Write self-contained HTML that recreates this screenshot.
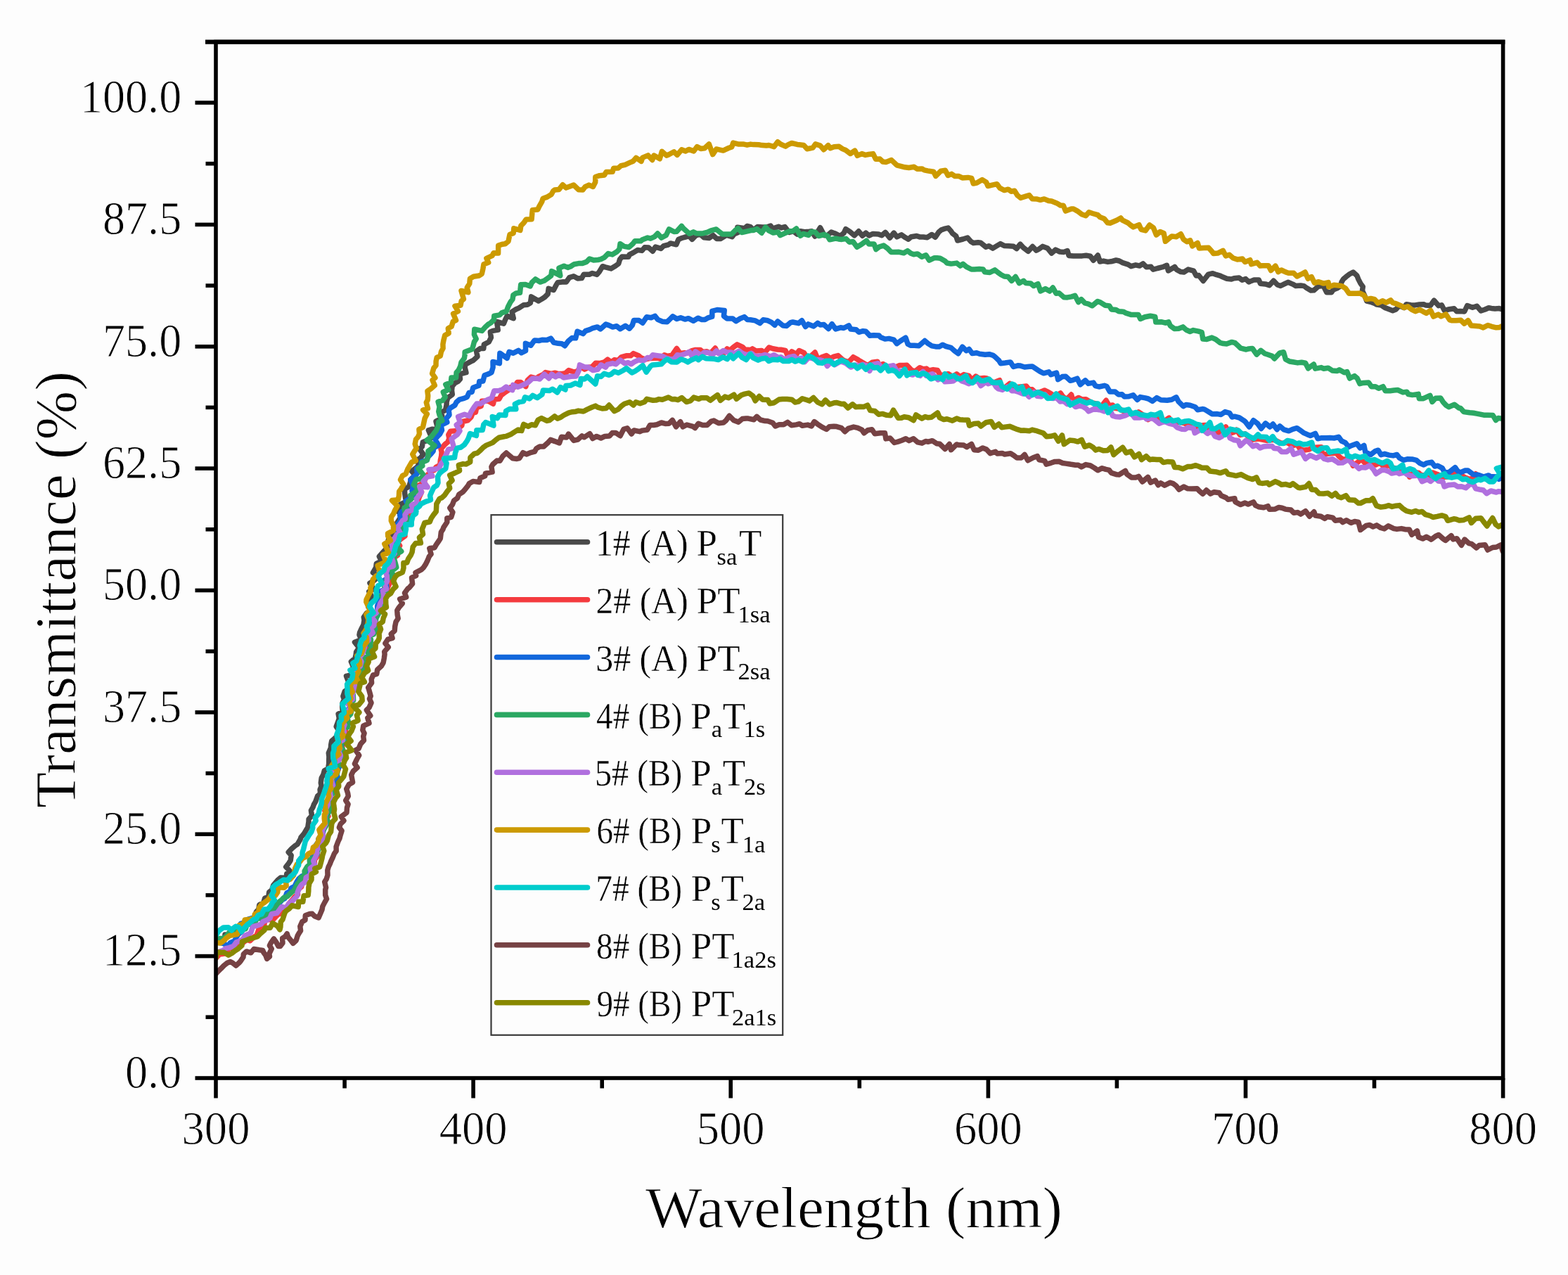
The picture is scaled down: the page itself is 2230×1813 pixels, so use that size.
<!DOCTYPE html>
<html><head><meta charset="utf-8"><title>Transmittance spectra</title>
<style>
html,body{margin:0;padding:0;background:#fdfdfd;}
svg{display:block;}
text{font-family:"Liberation Serif","DejaVu Serif",serif;fill:#000;stroke:#fdfdfd;stroke-width:0.9px;paint-order:fill;}
.tk{font-size:67px;}
.ti{font-size:82px;}
.lg{font-size:53px;stroke-width:0.4px;}
.sb{font-size:34.5px;stroke-width:0;}
</style></head><body>
<svg width="2230" height="1813" viewBox="0 0 2230 1813">
<rect width="2230" height="1813" fill="#fdfdfd"/>
<defs><clipPath id="pc"><rect x="307.0" y="40" width="1830.6" height="1493.0"/></clipPath></defs>
<g fill="none" clip-path="url(#pc)" stroke-width="7.5" stroke-linejoin="round" stroke-linecap="round">
<path d="M307.6 1339.1 L312.9 1334.9 L319.3 1336.7 L320.0 1328.9 L326.2 1330.1 L333.2 1325.2 L336.7 1322.7 L340.7 1317.4 L346.3 1315.3 L349.3 1311.2 L353.6 1310.6 L360.0 1305.7 L362.7 1303.6 L364.4 1296.6 L367.9 1292.6 L368.8 1286.7 L374.6 1284.0 L376.7 1277.0 L381.7 1275.6 L382.7 1268.7 L386.4 1265.6 L388.8 1258.6 L392.4 1254.5 L394.8 1251.7 L399.0 1248.1 L407.3 1248.3 L407.8 1242.3 L412.0 1238.1 L406.6 1232.7 L410.5 1227.7 L413.2 1223.4 L414.2 1216.3 L410.2 1211.8 L415.0 1206.6 L420.0 1202.4 L422.9 1200.6 L427.1 1193.5 L428.0 1190.6 L432.6 1185.2 L435.4 1180.3 L437.8 1176.4 L439.0 1168.4 L439.1 1164.7 L443.5 1159.9 L442.4 1152.4 L444.9 1148.2 L446.4 1143.9 L448.8 1139.8 L451.6 1132.0 L455.6 1128.7 L455.1 1122.8 L457.2 1117.7 L456.3 1113.2 L457.2 1106.3 L459.9 1101.3 L461.3 1095.9 L466.6 1093.1 L467.7 1085.9 L467.7 1082.3 L467.9 1075.8 L467.3 1070.7 L470.4 1063.6 L470.7 1058.9 L471.7 1053.6 L475.8 1050.2 L480.9 1044.6 L482.8 1040.1 L478.2 1033.1 L480.3 1027.6 L482.4 1021.4 L481.1 1015.1 L487.3 1012.4 L486.8 1005.6 L486.8 1000.4 L489.5 994.9 L487.9 990.0 L490.3 983.0 L495.4 979.4 L495.7 975.4 L495.2 968.3 L492.5 961.3 L504.3 958.6 L500.1 953.0 L502.7 948.5 L499.3 940.8 L504.9 936.1 L506.1 931.5 L506.6 927.1 L510.6 921.0 L504.5 913.2 L513.8 909.4 L511.0 902.7 L511.6 899.3 L514.6 892.9 L517.0 888.2 L518.0 881.8 L517.3 877.6 L521.5 871.7 L528.4 868.9 L523.8 862.9 L522.7 854.7 L527.7 852.5 L528.1 846.8 L524.8 841.2 L531.4 837.4 L526.0 829.2 L532.2 825.4 L537.6 819.5 L530.4 814.3 L534.7 806.8 L535.3 801.4 L542.7 797.9 L539.3 791.2 L542.9 787.1 L546.9 782.7 L551.3 778.7 L553.8 773.9 L552.2 768.4 L553.9 760.5 L563.5 759.4 L563.1 754.2 L566.3 749.7 L564.7 743.5 L567.8 738.4 L573.1 733.4 L566.6 727.9 L571.5 723.2 L569.4 717.2 L578.8 712.8 L576.7 708.8 L575.7 701.5 L575.5 695.7 L581.6 691.8 L583.5 686.0 L584.1 681.6 L590.4 675.6 L585.6 670.0 L592.6 664.6 L596.4 660.2 L592.3 654.9 L598.0 651.1 L602.1 646.0 L596.7 638.5 L600.3 635.1 L601.3 628.8 L607.8 626.2 L613.9 622.3 L609.4 611.8 L614.9 610.2 L623.1 610.7 L620.0 599.2 L626.0 596.1 L628.7 591.2 L627.9 586.3 L633.5 583.2 L635.1 575.4 L635.1 571.6 L636.8 565.8 L643.3 561.0 L642.5 555.2 L643.2 549.0 L646.9 544.7 L651.6 542.1 L654.5 539.0 L653.6 532.0 L662.9 529.7 L661.1 522.4 L661.9 518.2 L669.9 513.9 L673.0 512.5 L679.0 507.0 L677.5 499.3 L682.9 495.6 L687.8 495.4 L688.3 489.9 L695.2 486.2 L698.4 480.0 L697.3 472.0 L701.0 470.4 L708.2 469.1 L706.5 457.5 L716.4 460.1 L718.8 454.1 L721.3 449.2 L730.3 452.7 L728.1 443.4 L733.9 439.8 L737.8 438.1 L744.4 433.8 L750.1 433.3 L754.4 430.8 L755.6 421.9 L765.8 427.9 L769.9 425.6 L774.7 422.5 L779.2 418.0 L780.2 410.3 L787.3 412.5 L790.9 405.5 L793.2 401.8 L801.3 400.7 L805.4 400.9 L809.8 394.6 L815.8 392.8 L821.5 395.9 L827.3 395.6 L830.2 390.3 L838.2 390.2 L842.3 388.5 L849.0 390.4 L852.4 386.4 L857.0 378.7 L860.9 379.9 L868.9 381.9 L875.2 378.2 L879.7 375.0 L881.5 368.9 L884.7 364.9 L893.8 365.3 L895.1 362.2 L900.5 359.4 L906.9 355.5 L913.0 356.4 L916.8 351.8 L922.4 351.9 L928.3 357.3 L932.2 351.1 L939.9 353.4 L944.0 349.6 L950.6 348.0 L953.6 345.9 L961.8 347.8 L964.9 340.5 L969.2 338.6 L973.1 337.5 L980.3 335.7 L984.3 340.3 L989.6 334.8 L995.7 332.9 L1001.1 337.7 L1008.4 338.5 L1014.2 334.7 L1019.4 339.5 L1025.0 339.4 L1031.0 335.5 L1032.6 334.1 L1041.2 336.6 L1044.2 332.7 L1049.7 330.5 L1048.9 323.2 L1058.8 324.8 L1062.5 321.5 L1067.5 322.7 L1071.5 327.1 L1077.4 322.4 L1084.3 322.9 L1090.3 323.1 L1096.1 321.1 L1098.5 325.1 L1107.3 322.3 L1111.4 323.9 L1116.2 322.5 L1122.4 330.5 L1128.3 328.8 L1133.8 333.1 L1138.3 328.7 L1144.2 329.7 L1150.9 329.2 L1154.6 328.7 L1159.0 336.0 L1166.5 323.7 L1172.3 334.8 L1177.0 334.5 L1182.2 330.1 L1186.9 331.7 L1194.8 335.6 L1200.1 331.3 L1202.8 325.7 L1208.6 329.4 L1215.1 334.8 L1221.2 328.8 L1226.4 335.2 L1231.4 331.2 L1235.9 335.0 L1241.5 332.4 L1249.6 333.1 L1254.1 334.7 L1259.2 330.4 L1265.4 338.3 L1271.2 331.1 L1275.5 336.8 L1282.0 333.9 L1287.7 337.8 L1291.9 340.2 L1296.0 336.7 L1303.7 335.5 L1307.9 336.9 L1313.2 337.0 L1318.8 337.7 L1325.2 333.5 L1330.1 337.3 L1335.2 329.8 L1338.5 327.1 L1342.7 325.4 L1348.4 324.1 L1352.6 328.8 L1354.5 331.8 L1359.7 335.8 L1361.8 342.0 L1369.6 340.0 L1376.0 338.0 L1380.9 343.5 L1384.3 345.5 L1391.0 344.7 L1394.7 345.2 L1402.2 351.2 L1406.4 349.7 L1411.9 353.1 L1417.2 349.9 L1422.7 346.6 L1428.1 349.4 L1434.4 349.7 L1441.3 350.2 L1445.8 353.6 L1451.0 347.2 L1455.3 352.0 L1462.2 357.4 L1468.5 350.5 L1473.8 356.1 L1477.1 354.5 L1483.0 350.4 L1489.9 353.1 L1495.6 360.0 L1501.2 355.1 L1507.2 358.0 L1512.7 358.5 L1518.1 356.6 L1520.1 363.4 L1526.5 364.1 L1533.1 364.1 L1539.0 363.9 L1544.6 363.2 L1550.6 364.2 L1555.0 370.3 L1561.4 363.1 L1564.3 372.0 L1569.3 371.1 L1575.5 372.4 L1580.4 371.8 L1587.2 370.0 L1591.8 371.0 L1596.7 373.6 L1604.5 376.1 L1608.5 378.7 L1615.1 376.8 L1620.7 378.0 L1625.6 374.8 L1630.5 379.8 L1636.9 379.3 L1640.0 383.2 L1646.3 381.5 L1653.7 379.7 L1659.4 377.3 L1661.5 384.9 L1670.7 379.5 L1673.4 383.4 L1679.4 386.6 L1683.7 387.0 L1689.8 383.1 L1697.6 385.2 L1701.2 392.0 L1704.8 391.5 L1711.2 399.5 L1718.5 390.1 L1724.8 388.7 L1730.2 390.7 L1735.4 392.1 L1738.8 393.8 L1744.8 396.3 L1751.3 397.0 L1754.9 395.7 L1762.2 395.1 L1766.5 398.3 L1771.6 396.6 L1775.9 400.9 L1783.5 398.1 L1790.3 398.1 L1792.5 403.2 L1799.7 403.9 L1805.3 405.6 L1811.2 399.2 L1816.8 405.0 L1821.2 406.5 L1826.4 403.9 L1831.8 401.3 L1838.5 404.1 L1842.8 406.6 L1849.9 406.0 L1854.5 406.6 L1858.4 409.6 L1864.3 413.1 L1868.5 412.8 L1875.0 407.2 L1882.0 406.2 L1886.8 415.8 L1893.7 415.7 L1896.3 411.9 L1901.8 409.7 L1906.3 406.9 L1908.0 401.0 L1910.5 396.9 L1914.7 393.3 L1919.4 389.8 L1924.5 387.0 L1929.9 392.0 L1931.8 396.9 L1935.0 403.1 L1938.3 407.6 L1937.5 413.3 L1939.8 418.3 L1941.6 422.5 L1943.8 428.1 L1949.0 429.3 L1955.1 431.5 L1958.1 433.1 L1964.5 434.1 L1970.2 437.8 L1974.9 439.6 L1980.7 441.8 L1985.2 440.0 L1990.2 434.5 L1996.8 437.6 L2000.1 432.7 L2006.5 433.7 L2012.5 433.9 L2018.6 433.0 L2025.1 432.7 L2027.5 434.0 L2034.4 434.4 L2039.5 427.2 L2046.0 434.7 L2050.3 433.8 L2054.3 441.5 L2061.4 439.7 L2068.0 438.8 L2071.7 442.8 L2076.8 442.4 L2082.7 443.0 L2086.7 434.5 L2094.3 437.3 L2100.4 435.3 L2106.2 441.9 L2111.5 440.2 L2117.2 437.7 L2121.1 438.4 L2126.3 438.9 L2132.3 438.6 L2137.6 440.3" stroke="#4a4a4a"/>
<path d="M307.2 1362.4 L312.3 1357.0 L315.9 1356.6 L323.4 1355.2 L323.8 1347.2 L330.0 1348.6 L336.1 1343.6 L341.2 1341.8 L345.0 1341.0 L350.9 1336.1 L355.5 1337.8 L360.8 1332.5 L365.1 1329.5 L367.0 1324.7 L368.2 1320.4 L375.7 1315.8 L376.5 1310.3 L380.7 1307.5 L387.9 1308.2 L392.3 1303.4 L395.6 1300.2 L401.6 1298.2 L404.0 1292.9 L408.3 1291.0 L410.9 1285.0 L415.8 1279.5 L419.2 1275.2 L423.6 1271.9 L422.8 1266.0 L428.7 1261.0 L429.6 1255.7 L428.9 1251.3 L431.9 1245.4 L437.0 1240.5 L441.8 1237.5 L442.6 1233.2 L447.4 1229.0 L447.3 1222.7 L451.7 1217.1 L451.6 1211.9 L451.1 1207.0 L455.2 1202.3 L454.0 1197.5 L454.6 1190.7 L456.7 1186.4 L458.4 1181.7 L460.6 1176.5 L462.8 1170.9 L463.9 1163.9 L467.0 1160.7 L461.9 1152.7 L465.9 1147.8 L471.6 1142.1 L467.7 1137.4 L467.5 1130.7 L468.1 1127.7 L469.0 1120.2 L471.6 1114.0 L477.9 1112.8 L471.4 1102.9 L473.9 1100.3 L481.0 1094.5 L478.7 1090.6 L480.1 1085.1 L479.5 1079.1 L484.7 1072.0 L480.6 1065.9 L487.0 1062.1 L486.0 1056.3 L486.1 1051.8 L486.5 1045.5 L491.6 1041.2 L491.5 1033.9 L490.5 1029.7 L493.3 1023.7 L491.1 1018.9 L498.9 1013.2 L500.4 1008.1 L501.2 1002.2 L499.7 998.7 L502.1 991.5 L498.2 986.2 L502.3 981.4 L504.0 976.1 L505.4 972.3 L509.5 965.0 L507.9 959.8 L508.2 955.9 L515.3 950.0 L512.3 945.6 L513.2 939.2 L511.5 931.9 L514.5 927.8 L518.7 924.6 L522.1 918.0 L518.2 911.9 L524.4 908.1 L526.8 903.8 L526.4 897.8 L530.5 890.5 L535.3 887.8 L531.8 880.7 L531.6 874.1 L536.4 871.4 L536.9 866.5 L541.5 860.8 L545.0 856.9 L547.3 851.9 L547.3 847.1 L552.1 841.7 L550.6 836.7 L554.5 829.1 L553.7 825.0 L555.1 818.5 L554.3 813.1 L556.9 808.6 L556.7 803.2 L558.6 799.0 L561.6 792.0 L565.5 789.5 L563.8 782.6 L568.7 776.0 L565.3 770.9 L569.7 766.7 L576.0 762.2 L575.3 757.4 L572.1 749.8 L578.7 746.8 L581.0 740.4 L580.1 736.2 L581.4 729.7 L586.3 723.7 L587.5 719.6 L593.6 716.5 L594.7 711.7 L596.1 707.3 L599.6 699.6 L593.1 691.3 L600.2 687.9 L603.6 685.4 L604.8 679.0 L607.9 675.6 L612.7 670.1 L617.8 668.4 L620.0 664.3 L625.8 661.2 L626.3 654.8 L627.7 648.3 L628.1 642.5 L627.0 638.5 L632.7 632.0 L636.7 628.7 L638.9 623.5 L637.8 618.2 L640.7 613.2 L650.3 612.4 L654.0 607.3 L656.8 605.0 L657.8 599.5 L665.2 597.9 L670.2 592.8 L672.3 587.1 L676.4 586.3 L677.7 579.8 L684.3 577.4 L685.4 570.2 L694.1 570.0 L701.4 574.3 L703.1 567.9 L709.9 567.3 L712.6 562.2 L718.3 557.8 L723.6 554.3 L726.3 550.5 L731.5 550.7 L735.8 543.5 L740.4 543.4 L747.8 549.6 L750.3 540.7 L755.3 536.1 L763.2 538.1 L766.0 535.6 L772.8 532.3 L775.8 529.6 L784.0 531.4 L789.1 530.2 L792.6 531.2 L798.0 531.6 L804.2 530.6 L808.8 526.5 L816.5 529.0 L821.2 527.7 L825.8 521.5 L831.4 525.1 L838.5 521.9 L841.4 522.3 L847.2 516.2 L852.7 516.6 L859.5 515.0 L864.2 511.1 L869.0 514.8 L873.9 511.6 L879.3 512.4 L883.5 507.9 L890.6 505.8 L896.9 505.8 L900.8 502.6 L908.1 505.8 L911.6 508.6 L917.5 511.0 L925.1 509.4 L930.5 509.3 L934.7 508.9 L940.5 510.6 L944.8 504.8 L949.4 506.4 L955.9 505.0 L962.5 495.5 L967.2 502.5 L973.6 501.6 L977.1 502.1 L984.1 498.7 L989.1 497.5 L995.9 497.4 L999.4 500.5 L1005.3 499.7 L1010.2 502.5 L1017.2 495.0 L1020.5 501.5 L1028.2 503.7 L1034.0 495.9 L1037.6 498.5 L1043.2 493.6 L1048.4 489.9 L1056.0 493.3 L1059.3 497.0 L1067.3 497.6 L1070.1 495.9 L1075.3 498.9 L1083.4 498.4 L1086.2 502.8 L1093.8 494.0 L1099.1 495.8 L1105.8 497.0 L1110.6 497.3 L1117.1 498.5 L1120.6 506.9 L1125.9 499.9 L1132.9 503.8 L1136.4 498.5 L1143.5 501.6 L1146.4 506.4 L1152.1 507.6 L1159.1 501.1 L1163.7 512.1 L1168.3 508.0 L1175.3 505.5 L1180.8 509.6 L1185.8 507.1 L1191.9 505.6 L1198.0 511.0 L1201.3 513.2 L1207.1 514.6 L1213.5 507.7 L1218.6 510.5 L1223.0 513.3 L1230.9 518.0 L1234.8 519.3 L1240.4 515.3 L1248.0 514.2 L1249.8 519.6 L1256.0 517.6 L1260.8 520.9 L1266.0 523.4 L1271.6 523.0 L1279.6 519.4 L1285.5 519.5 L1289.8 519.3 L1296.4 526.4 L1301.2 528.1 L1308.1 522.7 L1312.7 524.7 L1317.5 524.1 L1321.2 526.9 L1327.1 525.6 L1333.3 526.5 L1337.2 533.1 L1344.4 533.3 L1348.4 531.5 L1354.8 535.7 L1360.5 531.8 L1365.4 535.7 L1370.6 532.6 L1378.0 534.5 L1382.6 540.4 L1387.7 535.0 L1392.9 538.3 L1399.7 537.4 L1403.4 537.9 L1409.7 542.7 L1414.1 543.8 L1421.6 540.7 L1424.7 551.9 L1429.4 551.0 L1436.1 545.4 L1441.1 550.2 L1446.3 550.5 L1453.6 549.7 L1459.5 549.0 L1463.2 553.4 L1467.9 553.8 L1473.4 558.9 L1480.2 557.2 L1485.5 555.0 L1489.0 556.6 L1494.3 559.5 L1500.1 563.6 L1508.2 559.0 L1511.5 563.7 L1517.0 567.8 L1523.6 561.1 L1526.0 569.7 L1533.7 565.5 L1538.7 567.9 L1544.4 567.7 L1550.8 571.6 L1554.1 572.8 L1561.5 574.7 L1563.3 581.8 L1573.1 569.3 L1577.3 576.7 L1582.5 576.1 L1585.3 580.4 L1592.5 581.4 L1595.8 583.8 L1603.7 586.5 L1607.4 585.8 L1613.8 591.6 L1619.3 585.8 L1625.0 589.7 L1629.2 592.1 L1632.9 596.6 L1642.3 590.6 L1646.5 591.7 L1650.4 597.5 L1657.6 597.6 L1662.6 594.2 L1666.1 602.3 L1671.3 600.8 L1677.4 600.4 L1684.4 601.7 L1687.4 603.6 L1694.1 603.6 L1699.7 606.7 L1704.4 607.6 L1710.4 604.8 L1714.9 604.4 L1721.1 614.6 L1725.3 609.4 L1730.6 616.8 L1735.7 613.4 L1743.4 607.0 L1748.7 616.4 L1755.2 614.4 L1758.5 611.2 L1763.5 618.5 L1770.7 616.8 L1774.6 620.2 L1781.3 625.3 L1784.1 624.9 L1789.9 624.0 L1797.2 625.5 L1802.5 626.5 L1809.1 625.6 L1811.9 625.2 L1816.8 627.7 L1822.3 630.4 L1830.7 629.4 L1834.3 631.7 L1839.5 633.5 L1844.9 632.0 L1848.9 638.4 L1853.8 640.2 L1861.9 639.1 L1865.7 636.8 L1874.0 636.1 L1879.0 635.8 L1880.7 646.7 L1886.8 645.6 L1892.1 644.7 L1900.6 644.2 L1904.3 648.9 L1909.4 653.2 L1914.5 652.6 L1919.1 649.7 L1924.3 662.3 L1931.7 656.8 L1936.0 652.6 L1941.0 658.2 L1948.3 659.7 L1952.3 661.4 L1956.3 661.1 L1962.7 657.9 L1967.5 663.4 L1975.8 661.7 L1980.2 665.3 L1983.2 665.5 L1989.8 669.1 L1994.3 668.9 L2000.1 668.7 L2004.6 678.2 L2010.7 671.1 L2017.7 672.4 L2020.6 675.2 L2026.0 676.2 L2032.2 678.3 L2037.6 672.1 L2045.4 675.1 L2050.3 679.9 L2055.3 677.9 L2061.3 678.2 L2064.6 673.6 L2070.9 673.8 L2077.3 675.7 L2083.6 678.9 L2088.3 680.7 L2092.9 681.2 L2098.6 673.8 L2105.8 679.3 L2110.2 680.0 L2116.8 679.1 L2119.8 679.4 L2127.8 678.1 L2130.7 680.3 L2137.6 680.0" stroke="#f43b3f"/>
<path d="M307.0 1338.4 L310.8 1340.2 L317.6 1341.5 L324.2 1345.2 L327.4 1340.8 L333.8 1338.0 L335.8 1333.1 L339.7 1327.8 L343.8 1325.0 L347.2 1319.0 L342.3 1313.5 L350.0 1311.5 L353.1 1307.0 L359.1 1305.3 L363.7 1306.6 L370.6 1304.2 L376.4 1306.7 L380.2 1302.4 L383.0 1301.7 L387.3 1296.3 L391.4 1292.0 L392.9 1285.5 L396.8 1284.7 L401.4 1279.4 L404.9 1277.6 L407.9 1269.9 L412.6 1267.4 L413.8 1263.1 L418.9 1260.4 L422.1 1253.9 L425.1 1249.4 L429.6 1245.8 L437.2 1243.3 L440.6 1238.6 L440.4 1234.5 L442.5 1230.2 L445.0 1224.5 L444.2 1216.6 L450.9 1214.8 L447.6 1208.5 L449.3 1201.6 L452.9 1196.7 L453.0 1192.7 L456.9 1188.7 L459.6 1183.5 L460.2 1177.5 L463.1 1172.3 L463.8 1166.0 L463.9 1159.2 L465.6 1155.9 L472.4 1150.9 L469.9 1144.6 L465.9 1139.6 L468.9 1133.7 L470.7 1127.0 L476.0 1122.2 L474.8 1118.3 L479.5 1112.2 L481.3 1108.5 L478.9 1101.0 L479.3 1097.0 L482.4 1090.6 L478.5 1086.6 L479.9 1080.9 L477.4 1073.4 L484.9 1070.5 L481.4 1064.0 L485.8 1058.0 L492.4 1054.9 L483.1 1047.5 L486.8 1040.9 L486.0 1037.5 L486.7 1032.3 L493.4 1025.3 L488.1 1018.4 L494.3 1014.8 L494.8 1009.5 L498.9 1003.8 L492.0 997.9 L494.4 994.1 L502.0 989.4 L495.6 981.9 L502.7 976.6 L506.5 972.8 L500.2 967.3 L503.4 960.4 L510.3 956.0 L505.3 951.4 L513.3 945.1 L515.0 942.8 L514.1 934.6 L515.0 930.3 L516.9 924.7 L516.5 919.9 L522.1 915.9 L523.6 910.2 L523.9 902.8 L526.4 897.7 L523.6 891.1 L526.0 887.6 L524.7 881.3 L530.8 877.2 L536.2 874.3 L536.7 867.9 L536.7 861.4 L538.5 857.2 L540.1 852.3 L545.7 848.7 L541.8 840.4 L549.9 836.9 L549.6 831.8 L545.6 825.8 L553.4 820.9 L555.8 814.2 L553.9 809.2 L561.2 805.8 L555.5 798.7 L557.8 794.0 L560.8 788.2 L562.4 784.2 L561.7 776.2 L565.3 772.6 L562.0 765.8 L565.7 762.9 L565.1 756.1 L566.7 751.6 L565.6 745.3 L570.3 739.5 L568.7 732.8 L570.9 727.9 L575.9 725.1 L580.8 719.0 L577.3 712.5 L582.7 708.9 L588.8 705.7 L586.0 697.9 L587.2 694.2 L586.8 688.4 L583.8 682.1 L590.6 676.3 L593.3 673.5 L592.7 666.5 L598.7 662.7 L599.5 656.6 L607.2 654.3 L607.9 650.6 L612.9 645.4 L616.2 641.3 L616.9 636.5 L623.8 633.3 L619.1 625.0 L621.7 621.0 L625.7 617.0 L628.5 611.8 L627.2 604.5 L635.9 600.4 L634.1 595.8 L639.0 590.0 L638.3 583.4 L640.3 580.3 L646.9 576.2 L649.1 571.9 L653.4 568.2 L660.0 566.4 L664.3 564.5 L667.1 558.4 L671.2 557.3 L672.8 551.3 L681.0 548.2 L681.7 542.6 L686.9 542.1 L689.0 533.8 L695.1 531.6 L699.0 529.6 L701.1 522.5 L701.0 514.4 L710.4 516.7 L710.6 508.0 L710.9 502.2 L721.2 509.3 L724.1 500.4 L729.9 502.2 L737.4 498.4 L741.6 501.8 L747.6 498.6 L747.4 488.3 L754.9 491.2 L760.2 483.9 L766.2 484.5 L770.8 483.3 L777.8 483.5 L783.4 481.1 L787.5 487.0 L793.8 488.3 L798.9 488.7 L803.3 491.7 L808.4 484.8 L813.4 480.5 L818.7 480.8 L821.1 471.2 L829.3 474.6 L832.6 470.6 L838.7 468.6 L842.9 466.7 L849.6 464.9 L853.9 468.0 L861.6 461.1 L866.1 462.6 L871.4 465.1 L877.0 463.7 L882.0 467.7 L889.5 463.2 L895.1 467.2 L899.4 462.2 L901.4 455.6 L908.6 455.5 L914.0 459.2 L919.6 450.8 L926.0 451.8 L931.5 449.4 L935.5 454.3 L941.8 457.2 L948.7 457.7 L953.0 453.6 L956.9 449.8 L962.6 453.5 L968.0 451.7 L974.2 454.1 L979.0 452.7 L986.2 456.3 L992.8 452.2 L998.2 454.6 L1002.6 454.4 L1006.4 452.2 L1012.8 450.2 L1012.8 442.4 L1019.9 440.5 L1030.2 441.6 L1029.4 449.5 L1034.0 453.0 L1042.0 453.0 L1046.6 456.7 L1052.7 453.0 L1058.5 450.6 L1062.9 454.6 L1067.2 454.8 L1074.2 455.9 L1080.7 459.6 L1085.4 454.8 L1091.9 455.8 L1097.2 458.4 L1101.9 462.3 L1106.0 457.0 L1113.7 463.1 L1118.8 463.4 L1124.4 458.7 L1127.5 458.0 L1135.6 459.7 L1140.5 455.8 L1145.6 464.6 L1149.5 460.9 L1157.2 463.9 L1162.9 459.4 L1166.6 462.0 L1171.7 461.6 L1178.3 467.5 L1183.2 460.6 L1188.4 467.9 L1195.4 465.8 L1200.0 466.5 L1207.2 462.9 L1209.8 468.0 L1217.6 468.7 L1221.5 472.3 L1227.4 470.7 L1231.5 471.3 L1237.2 477.3 L1242.5 476.8 L1249.9 476.9 L1252.3 479.5 L1258.7 482.1 L1264.2 481.4 L1271.1 483.2 L1275.4 488.6 L1280.4 485.0 L1288.0 480.2 L1291.1 489.2 L1294.9 491.2 L1300.4 491.2 L1306.9 491.8 L1315.2 484.5 L1319.7 488.4 L1325.2 491.9 L1330.8 492.9 L1335.7 493.1 L1340.5 490.2 L1345.3 492.5 L1352.3 494.3 L1357.3 498.7 L1362.8 502.8 L1368.7 493.1 L1374.2 498.7 L1378.2 496.4 L1382.7 502.6 L1389.0 501.8 L1393.3 503.3 L1401.1 504.3 L1406.9 503.7 L1412.5 505.3 L1415.1 507.4 L1420.8 512.8 L1423.1 516.7 L1429.4 516.0 L1437.0 514.9 L1441.3 521.5 L1447.4 519.8 L1451.2 520.1 L1457.2 522.0 L1463.8 521.2 L1468.0 520.9 L1474.4 525.2 L1478.9 528.1 L1484.0 530.8 L1491.8 528.9 L1494.6 532.7 L1502.6 530.2 L1504.7 539.6 L1510.8 535.6 L1515.6 535.2 L1522.1 541.3 L1526.2 540.3 L1532.0 538.2 L1536.4 546.9 L1543.5 540.9 L1547.8 545.4 L1555.1 544.1 L1557.8 548.6 L1563.0 550.0 L1570.7 548.3 L1574.1 549.5 L1578.3 556.9 L1585.8 557.1 L1590.8 560.9 L1595.7 560.8 L1599.1 563.9 L1605.4 563.8 L1611.6 561.8 L1617.5 568.5 L1621.7 564.6 L1628.7 565.9 L1633.1 567.0 L1639.1 570.4 L1645.1 565.6 L1651.0 568.7 L1655.8 569.0 L1659.9 569.3 L1666.4 568.2 L1672.8 564.8 L1676.2 571.2 L1682.8 577.7 L1686.6 575.6 L1692.5 576.2 L1699.8 578.7 L1703.3 582.8 L1709.9 581.6 L1712.7 581.9 L1719.6 586.0 L1723.7 588.7 L1731.3 588.6 L1736.5 589.5 L1742.3 585.6 L1748.6 587.3 L1752.2 593.0 L1755.8 592.2 L1762.7 594.0 L1768.7 597.8 L1771.1 599.7 L1776.6 607.1 L1782.6 597.8 L1788.5 602.3 L1793.7 609.5 L1799.8 601.9 L1806.1 607.0 L1810.4 603.1 L1816.2 610.7 L1820.1 605.9 L1825.9 610.8 L1832.9 612.8 L1838.4 610.3 L1844.5 608.7 L1848.4 611.3 L1853.8 615.3 L1859.1 617.7 L1863.6 619.5 L1870.6 616.4 L1874.2 623.8 L1879.6 622.7 L1885.7 622.8 L1891.5 622.6 L1897.3 623.0 L1903.8 621.3 L1907.9 627.0 L1913.6 629.7 L1918.1 635.5 L1920.9 633.9 L1929.7 630.7 L1934.3 637.0 L1939.9 633.5 L1941.8 643.0 L1949.4 646.5 L1955.6 641.6 L1960.1 640.2 L1964.1 646.7 L1969.3 645.3 L1975.4 647.1 L1981.3 647.9 L1986.7 646.5 L1990.5 651.3 L1995.9 654.3 L2001.4 652.8 L2008.2 652.9 L2014.3 654.3 L2019.6 658.8 L2024.8 660.9 L2029.4 658.4 L2036.1 657.3 L2040.5 663.1 L2044.8 662.2 L2051.2 665.6 L2054.5 671.7 L2060.6 671.8 L2069.5 664.7 L2072.0 668.4 L2076.1 672.2 L2083.8 669.0 L2087.7 669.0 L2095.3 674.7 L2100.3 675.0 L2103.7 675.7 L2109.9 678.0 L2117.1 675.9 L2119.5 677.4 L2127.4 678.0 L2131.7 681.4 L2137.5 677.3" stroke="#1267dc"/>
<path d="M307.0 1335.7 L311.7 1334.6 L317.1 1334.3 L321.8 1331.4 L327.2 1324.4 L334.1 1326.4 L336.3 1324.0 L342.3 1322.4 L349.1 1320.9 L351.7 1313.8 L357.2 1314.2 L362.7 1312.2 L365.6 1305.1 L372.1 1306.6 L377.2 1301.3 L379.5 1298.8 L382.2 1294.3 L388.2 1292.3 L392.3 1289.6 L397.1 1282.3 L400.8 1279.6 L403.5 1276.6 L408.5 1274.7 L414.4 1269.0 L417.8 1266.7 L420.3 1262.3 L423.1 1256.7 L426.3 1253.2 L427.8 1248.0 L433.3 1245.1 L433.1 1238.7 L437.0 1232.2 L440.6 1229.0 L440.3 1222.8 L446.8 1219.4 L451.0 1214.7 L451.8 1210.3 L454.0 1205.6 L456.4 1198.7 L457.0 1194.4 L458.9 1187.3 L458.2 1182.6 L462.4 1176.4 L464.0 1173.8 L466.9 1169.0 L464.3 1162.6 L467.3 1154.9 L468.4 1150.5 L468.0 1145.1 L468.8 1140.5 L469.4 1135.6 L470.8 1130.7 L477.6 1123.9 L469.3 1117.7 L472.2 1110.9 L472.0 1108.5 L478.5 1101.4 L479.9 1098.4 L477.3 1089.4 L483.2 1087.9 L479.0 1081.1 L487.4 1076.5 L484.6 1070.0 L487.9 1066.3 L482.9 1057.8 L490.5 1053.1 L489.0 1049.9 L488.2 1043.8 L486.9 1035.9 L494.2 1034.2 L495.5 1026.8 L493.8 1020.6 L498.7 1015.5 L499.7 1011.3 L501.2 1006.6 L496.4 1000.7 L502.6 996.0 L502.4 990.7 L501.8 983.6 L505.2 980.5 L505.5 972.3 L511.9 967.7 L509.3 964.1 L513.0 957.7 L516.4 952.2 L520.1 950.1 L519.6 941.6 L516.1 935.2 L525.3 932.5 L523.1 927.7 L527.9 921.9 L527.0 915.5 L527.5 909.5 L525.9 904.4 L531.4 901.9 L535.1 895.4 L532.7 889.8 L534.4 882.9 L534.9 879.2 L538.0 873.4 L540.1 868.5 L543.1 865.0 L541.8 856.9 L544.4 852.9 L542.6 846.4 L549.5 843.0 L548.1 838.2 L546.1 831.4 L549.5 825.4 L553.3 821.2 L558.8 817.3 L557.4 811.7 L563.8 806.8 L562.3 800.9 L560.3 794.3 L562.2 788.8 L570.8 784.0 L564.9 777.8 L565.9 772.8 L566.8 767.1 L566.5 762.8 L573.8 757.1 L575.0 753.4 L570.8 745.5 L579.5 743.2 L579.0 735.6 L576.2 730.8 L574.9 722.8 L579.2 718.6 L580.9 712.9 L585.5 709.2 L583.8 704.2 L589.1 700.9 L596.0 695.1 L588.3 689.3 L591.9 681.6 L598.0 681.1 L602.3 675.5 L594.9 666.2 L600.9 662.4 L599.6 657.8 L607.4 654.3 L609.1 648.3 L608.9 641.6 L613.4 638.2 L618.0 633.6 L607.2 625.7 L613.2 621.4 L617.2 616.2 L620.4 612.3 L623.2 605.8 L623.7 600.1 L628.8 598.2 L625.2 590.5 L623.8 585.3 L625.1 578.5 L623.1 571.3 L629.5 569.4 L633.2 564.6 L630.3 557.5 L637.8 554.1 L633.8 546.7 L641.3 543.9 L642.0 536.9 L648.6 536.9 L649.1 529.7 L652.0 526.5 L654.7 520.8 L656.0 515.0 L660.3 509.5 L661.1 504.6 L661.1 500.4 L671.5 496.4 L673.0 491.7 L674.4 486.1 L677.2 481.9 L674.4 475.8 L674.8 468.3 L685.4 470.4 L690.2 465.0 L694.5 461.1 L697.8 459.3 L702.4 454.8 L702.8 449.2 L710.6 447.9 L713.6 444.9 L720.2 442.6 L722.9 435.4 L726.0 429.5 L729.0 425.5 L729.9 419.6 L734.0 416.9 L739.5 416.3 L740.7 404.7 L747.3 404.5 L754.1 407.0 L756.4 401.7 L761.5 396.9 L768.2 401.1 L773.7 399.3 L779.2 395.5 L783.8 392.1 L784.7 385.6 L796.8 391.9 L794.9 381.3 L802.1 378.2 L807.5 380.4 L811.4 379.0 L816.6 375.7 L822.8 374.6 L827.8 374.6 L834.1 372.4 L838.5 368.0 L844.1 369.9 L850.5 369.5 L854.4 368.7 L859.5 366.2 L865.1 360.5 L870.7 362.0 L876.9 358.3 L880.9 354.3 L882.0 346.7 L887.6 350.4 L894.5 351.5 L900.3 346.4 L902.8 342.8 L911.2 342.8 L913.2 341.1 L921.0 338.0 L925.2 339.2 L930.8 336.6 L935.2 332.0 L940.8 338.1 L947.4 334.4 L951.5 325.9 L958.6 329.5 L962.3 329.3 L969.3 321.4 L972.3 325.2 L980.5 332.3 L986.1 329.8 L989.8 331.7 L996.9 332.0 L1000.3 331.7 L1006.4 330.2 L1011.2 327.8 L1018.7 326.0 L1021.8 328.6 L1027.4 333.0 L1032.8 333.0 L1040.5 332.9 L1045.7 327.5 L1049.6 324.6 L1055.0 330.6 L1062.6 328.9 L1068.1 327.6 L1070.7 327.6 L1076.5 325.5 L1083.2 331.2 L1088.8 323.0 L1092.9 327.6 L1099.8 331.1 L1106.4 329.9 L1109.6 334.7 L1116.3 331.7 L1122.6 328.8 L1127.4 328.7 L1132.6 325.0 L1138.2 335.3 L1142.4 332.4 L1149.9 334.4 L1154.0 329.4 L1159.5 330.3 L1164.3 335.5 L1172.2 333.5 L1176.9 335.6 L1180.0 340.8 L1188.3 339.1 L1192.5 339.9 L1197.1 340.4 L1203.3 339.5 L1207.9 344.2 L1213.1 343.6 L1218.8 351.3 L1225.1 347.6 L1232.3 342.2 L1235.6 346.9 L1243.1 347.0 L1245.8 354.6 L1250.4 351.0 L1256.7 349.1 L1262.2 353.1 L1267.3 358.4 L1271.5 358.6 L1278.5 358.3 L1285.4 359.8 L1290.7 356.6 L1295.4 360.3 L1299.4 361.8 L1304.8 360.9 L1310.9 365.3 L1316.9 362.8 L1321.6 370.1 L1329.0 366.7 L1332.8 366.8 L1337.1 367.2 L1344.1 371.2 L1346.7 374.0 L1352.6 375.1 L1360.7 374.1 L1365.8 378.1 L1369.6 375.3 L1374.4 379.4 L1381.5 383.0 L1385.9 383.0 L1392.7 382.5 L1398.2 383.1 L1400.5 386.8 L1407.7 387.5 L1414.9 383.9 L1419.2 387.4 L1423.9 390.7 L1428.3 393.0 L1433.8 393.6 L1438.7 399.4 L1444.3 393.5 L1449.5 402.7 L1455.7 399.3 L1458.7 402.6 L1465.8 403.0 L1470.1 406.5 L1476.2 403.7 L1479.8 414.0 L1486.7 410.6 L1492.9 414.1 L1497.4 409.1 L1502.0 417.2 L1506.2 416.7 L1513.1 422.8 L1518.1 422.9 L1524.2 421.9 L1528.8 420.3 L1533.8 429.7 L1537.8 425.7 L1542.9 430.9 L1547.8 432.1 L1553.3 434.8 L1561.0 428.5 L1565.2 430.1 L1571.9 434.2 L1577.7 434.9 L1580.7 439.9 L1587.2 440.6 L1591.1 442.8 L1597.5 443.2 L1601.2 445.1 L1609.1 447.6 L1612.1 447.4 L1618.9 447.4 L1621.8 453.5 L1628.2 450.8 L1636.0 449.3 L1642.8 450.5 L1643.8 458.0 L1651.4 457.7 L1657.4 459.2 L1662.0 457.9 L1664.4 463.3 L1670.1 467.4 L1676.3 467.2 L1682.3 464.9 L1686.9 469.0 L1692.4 471.5 L1697.1 469.6 L1704.6 471.1 L1709.2 472.6 L1710.8 482.0 L1716.3 482.4 L1723.5 480.1 L1728.9 482.5 L1735.1 487.3 L1739.9 488.6 L1744.5 489.0 L1751.9 486.4 L1756.6 487.7 L1760.7 491.5 L1764.6 495.2 L1772.3 497.0 L1776.0 495.9 L1781.2 495.5 L1787.2 504.1 L1793.2 498.3 L1798.6 502.7 L1801.9 503.8 L1809.4 506.4 L1812.5 509.9 L1820.1 501.9 L1825.5 500.7 L1828.4 510.9 L1834.1 514.0 L1839.0 514.8 L1845.4 515.9 L1851.1 515.2 L1856.6 516.2 L1860.5 523.8 L1868.4 518.0 L1870.5 524.1 L1879.1 522.6 L1882.3 524.2 L1888.9 523.2 L1894.7 526.9 L1901.3 527.6 L1904.8 525.8 L1911.9 529.8 L1915.7 528.5 L1919.6 538.0 L1926.4 534.6 L1930.2 537.8 L1933.9 545.6 L1938.8 544.4 L1946.5 544.0 L1950.4 549.7 L1956.2 549.7 L1960.7 552.2 L1967.0 549.7 L1970.2 555.8 L1977.0 555.7 L1982.3 555.0 L1987.8 554.5 L1995.2 557.9 L2000.8 557.2 L2002.8 560.5 L2008.7 561.6 L2017.2 560.4 L2018.3 566.7 L2024.4 566.7 L2033.8 562.3 L2036.9 571.5 L2041.8 566.3 L2048.8 566.0 L2052.4 571.7 L2056.7 576.4 L2060.3 578.7 L2068.5 575.3 L2074.7 580.0 L2077.2 580.5 L2081.7 585.6 L2090.1 586.8 L2095.5 587.2 L2100.2 588.1 L2105.3 589.1 L2110.2 590.2 L2115.8 590.2 L2123.2 590.6 L2127.4 597.5 L2130.8 594.5 L2137.4 595.4" stroke="#2ba863"/>
<path d="M307.0 1355.7 L312.8 1352.9 L317.6 1351.4 L320.8 1348.7 L325.9 1347.6 L331.9 1345.6 L336.1 1339.8 L341.2 1337.9 L345.2 1335.7 L348.5 1330.2 L354.7 1327.8 L356.9 1325.8 L359.4 1317.7 L366.0 1316.0 L371.6 1313.9 L373.7 1310.8 L379.7 1308.3 L384.0 1305.5 L386.3 1299.7 L394.0 1298.2 L397.1 1294.2 L400.6 1289.5 L406.9 1290.8 L410.8 1284.7 L413.8 1283.0 L419.9 1277.0 L422.6 1273.9 L423.2 1269.0 L425.6 1263.0 L429.2 1257.7 L434.5 1254.0 L435.2 1247.9 L440.6 1244.9 L442.2 1240.9 L441.2 1234.7 L447.6 1230.0 L445.8 1224.1 L448.6 1219.0 L450.8 1212.8 L450.2 1209.5 L453.4 1204.9 L455.8 1199.2 L459.9 1194.0 L459.6 1188.5 L458.1 1180.6 L460.4 1176.9 L462.7 1172.1 L461.8 1166.2 L461.9 1159.9 L464.0 1155.1 L463.2 1150.6 L466.4 1144.3 L466.6 1137.9 L470.4 1133.0 L469.3 1126.4 L467.2 1122.3 L473.6 1116.5 L472.0 1111.3 L471.0 1107.4 L475.6 1100.6 L474.1 1093.7 L472.3 1090.0 L475.0 1084.6 L482.1 1080.9 L484.5 1074.3 L480.8 1067.3 L483.6 1064.4 L479.4 1057.4 L487.7 1052.3 L486.3 1046.0 L489.4 1040.8 L488.2 1035.5 L490.1 1030.5 L486.7 1025.5 L493.4 1021.5 L492.2 1015.2 L495.9 1009.2 L500.5 1005.3 L490.9 997.7 L501.4 994.7 L501.2 988.2 L502.4 982.7 L505.1 978.1 L503.5 970.6 L501.0 964.5 L505.3 961.4 L507.2 956.7 L503.6 949.6 L512.2 947.5 L513.9 940.8 L510.7 935.5 L516.0 928.8 L517.1 924.9 L518.4 920.1 L520.0 914.2 L524.2 910.3 L523.5 904.9 L530.2 899.9 L527.2 893.4 L531.6 889.7 L533.7 884.3 L528.1 876.6 L535.2 871.4 L537.1 868.0 L539.3 863.0 L540.7 858.0 L545.0 851.7 L545.7 846.6 L544.5 840.1 L549.5 837.4 L547.4 831.5 L550.5 826.5 L550.2 818.6 L549.0 815.2 L551.7 807.2 L559.4 805.1 L558.9 798.7 L556.5 791.7 L561.0 787.3 L557.2 782.3 L558.1 778.2 L556.4 770.8 L560.7 766.3 L564.1 760.4 L569.7 758.4 L564.9 750.1 L568.3 746.5 L572.8 739.9 L576.3 737.9 L576.0 732.1 L579.0 727.4 L588.0 725.1 L585.4 718.5 L593.1 714.1 L592.3 709.2 L596.1 704.6 L599.5 700.0 L596.7 691.7 L608.2 692.7 L602.1 684.3 L607.7 678.0 L614.9 676.9 L610.0 667.7 L619.4 666.9 L624.3 666.0 L627.0 660.0 L630.2 656.1 L632.9 649.5 L634.7 646.1 L637.6 639.2 L645.6 636.7 L644.1 631.1 L642.1 624.2 L645.4 621.6 L650.6 617.7 L654.0 612.7 L649.2 604.3 L654.4 600.5 L651.6 592.5 L660.6 589.2 L667.2 591.6 L670.0 585.5 L674.2 579.1 L678.0 574.1 L683.4 574.1 L687.3 571.8 L693.2 568.5 L699.0 566.1 L700.2 563.5 L702.8 555.7 L709.8 555.4 L714.5 554.1 L719.9 550.1 L728.7 554.7 L729.8 547.4 L736.5 550.2 L741.4 548.4 L746.8 546.0 L751.4 543.4 L757.1 538.2 L763.8 538.2 L767.6 539.0 L774.1 532.1 L780.7 538.0 L784.7 532.1 L790.1 536.0 L795.0 532.4 L801.6 537.0 L806.0 536.2 L812.3 535.2 L819.4 535.0 L823.0 527.5 L824.5 518.9 L831.5 522.0 L836.3 522.0 L843.3 526.6 L850.1 525.3 L854.9 518.8 L861.3 522.2 L863.8 518.4 L871.3 516.6 L876.0 517.9 L882.1 512.1 L888.8 516.9 L893.2 515.5 L897.8 517.8 L902.1 514.6 L908.2 511.9 L915.0 513.0 L920.9 508.6 L924.6 509.0 L928.4 504.8 L934.8 505.6 L942.8 506.8 L947.7 509.3 L953.1 510.7 L958.7 510.5 L963.2 504.7 L967.6 505.5 L975.3 502.7 L980.5 500.3 L984.4 506.9 L989.1 499.9 L996.5 504.9 L1001.8 501.0 L1008.6 501.5 L1013.3 504.7 L1018.9 499.0 L1022.2 502.8 L1028.9 498.5 L1033.2 500.8 L1038.9 500.9 L1045.2 502.3 L1051.2 499.2 L1056.1 502.5 L1062.1 504.9 L1068.5 502.3 L1073.9 506.4 L1078.9 506.5 L1084.7 505.3 L1088.1 504.5 L1096.0 506.9 L1100.8 504.7 L1107.1 508.4 L1110.8 507.8 L1115.9 511.6 L1121.7 508.2 L1129.4 506.4 L1132.9 510.4 L1140.0 509.1 L1144.5 514.6 L1150.1 508.3 L1156.3 509.8 L1159.6 511.2 L1167.1 512.0 L1172.3 513.6 L1176.6 520.5 L1182.9 514.0 L1187.0 518.7 L1195.2 514.1 L1197.5 514.5 L1202.9 516.5 L1210.0 522.0 L1216.2 519.0 L1221.7 520.2 L1227.2 518.2 L1233.2 520.1 L1236.7 527.4 L1241.7 518.3 L1248.7 516.7 L1254.1 522.7 L1259.0 521.1 L1264.3 520.9 L1270.7 519.8 L1275.5 527.5 L1282.3 527.4 L1286.2 527.2 L1290.2 531.1 L1298.1 533.0 L1301.5 531.0 L1308.9 534.3 L1312.7 528.4 L1317.4 534.3 L1326.2 531.7 L1329.3 534.8 L1334.0 540.0 L1340.2 536.7 L1343.7 542.8 L1351.9 542.3 L1355.8 541.7 L1362.1 537.2 L1367.5 541.6 L1373.8 543.8 L1377.7 545.7 L1382.5 544.0 L1390.7 541.3 L1394.9 548.6 L1402.3 543.0 L1405.3 545.8 L1412.5 543.5 L1416.6 550.1 L1419.8 552.9 L1425.7 554.4 L1432.7 550.1 L1439.1 555.7 L1443.1 555.8 L1449.4 557.8 L1454.2 559.9 L1459.3 559.5 L1463.6 564.3 L1470.7 557.8 L1474.9 563.2 L1480.6 563.9 L1485.9 560.9 L1491.0 566.1 L1497.9 566.6 L1502.4 565.4 L1507.7 571.0 L1512.5 570.1 L1517.9 574.6 L1522.8 572.0 L1529.6 578.6 L1534.9 577.1 L1540.0 578.1 L1545.0 581.2 L1548.3 584.9 L1557.1 581.0 L1561.4 582.5 L1565.5 582.9 L1570.7 585.0 L1577.5 580.4 L1582.4 591.1 L1586.6 592.5 L1592.3 593.0 L1600.3 590.9 L1606.8 587.6 L1610.7 590.1 L1613.7 594.1 L1620.2 594.0 L1628.1 592.7 L1630.4 595.9 L1639.0 594.9 L1641.3 596.2 L1648.5 602.2 L1653.5 600.3 L1657.4 599.8 L1662.4 602.0 L1670.0 603.9 L1674.4 607.9 L1680.8 610.2 L1685.5 610.5 L1689.5 607.8 L1697.3 609.0 L1699.2 615.7 L1705.6 612.1 L1711.2 611.3 L1717.3 616.4 L1723.0 612.1 L1727.9 620.4 L1733.8 622.6 L1737.5 620.7 L1745.1 612.1 L1749.2 622.8 L1755.4 625.8 L1761.1 626.5 L1764.0 633.8 L1771.8 626.6 L1775.9 628.4 L1781.9 634.6 L1787.1 632.9 L1792.1 637.0 L1796.9 635.0 L1802.2 634.4 L1809.2 634.5 L1812.2 637.6 L1818.3 638.0 L1822.8 642.5 L1829.8 642.5 L1836.2 637.5 L1839.9 646.2 L1847.3 643.6 L1850.7 642.0 L1856.7 652.4 L1862.9 647.6 L1866.9 649.1 L1872.0 651.4 L1878.8 647.8 L1883.2 652.4 L1888.7 653.9 L1895.0 652.8 L1901.0 656.5 L1903.6 658.3 L1909.6 658.1 L1917.7 653.3 L1922.6 659.0 L1928.3 662.0 L1932.7 666.4 L1936.0 664.6 L1942.1 665.1 L1948.0 661.8 L1953.7 668.0 L1957.0 673.7 L1964.9 668.5 L1969.2 668.2 L1976.5 671.1 L1979.3 673.1 L1986.5 671.5 L1990.0 673.7 L1997.3 671.9 L2001.5 674.9 L2007.7 676.8 L2012.1 676.4 L2017.7 676.0 L2022.4 684.7 L2030.1 681.5 L2034.4 684.5 L2040.7 679.4 L2045.6 684.0 L2051.8 684.8 L2054.2 692.0 L2059.8 689.8 L2068.2 688.9 L2073.0 691.9 L2078.6 691.7 L2084.6 693.8 L2090.2 689.0 L2095.2 688.1 L2098.7 694.8 L2105.6 696.3 L2109.6 697.0 L2114.2 701.7 L2120.3 698.0 L2128.0 700.0 L2130.9 698.8 L2137.6 699.6" stroke="#b070de"/>
<path d="M307.1 1340.5 L313.6 1341.1 L319.2 1336.8 L321.1 1334.5 L326.7 1330.4 L331.7 1329.5 L337.3 1328.5 L341.3 1321.7 L340.3 1315.6 L346.8 1313.4 L348.2 1308.0 L355.7 1307.3 L361.7 1304.9 L362.3 1299.9 L367.6 1296.8 L368.6 1290.5 L372.4 1285.7 L377.0 1282.6 L381.3 1279.3 L384.8 1274.1 L391.6 1273.4 L394.8 1268.6 L395.5 1261.5 L404.1 1262.2 L407.2 1259.4 L406.2 1251.6 L412.6 1250.3 L417.5 1244.8 L418.6 1240.5 L419.6 1234.8 L422.4 1229.0 L426.2 1225.9 L430.1 1220.6 L435.1 1218.2 L438.5 1214.2 L444.2 1211.4 L445.4 1205.0 L449.5 1202.4 L452.6 1196.5 L453.2 1192.4 L456.1 1187.3 L453.9 1180.0 L456.9 1176.5 L462.1 1170.5 L461.2 1163.8 L461.4 1158.2 L463.8 1154.9 L462.7 1149.6 L462.2 1143.5 L465.6 1137.2 L467.7 1132.4 L466.7 1126.6 L471.0 1121.0 L469.3 1117.7 L470.4 1109.4 L469.7 1105.0 L478.0 1101.3 L480.1 1095.2 L471.3 1089.2 L476.2 1082.4 L475.2 1077.6 L481.9 1072.7 L479.1 1068.9 L483.2 1064.0 L482.1 1055.6 L480.4 1052.3 L489.0 1046.4 L485.9 1042.5 L486.4 1036.1 L485.8 1030.3 L490.7 1023.9 L493.9 1020.8 L491.1 1014.8 L499.2 1011.7 L499.1 1005.1 L496.7 996.9 L499.0 992.9 L497.3 988.6 L501.2 983.7 L498.1 976.6 L500.2 969.7 L510.5 968.9 L506.0 962.5 L510.1 954.6 L507.2 948.2 L511.8 944.9 L511.3 940.4 L507.7 932.5 L513.7 929.6 L516.1 923.1 L516.5 919.7 L521.6 912.8 L521.5 906.6 L517.0 900.3 L519.5 897.2 L521.8 892.5 L523.6 884.3 L523.9 880.4 L520.9 873.6 L526.0 868.0 L524.9 864.6 L520.8 856.0 L521.0 852.6 L524.1 846.4 L527.1 840.7 L526.9 835.7 L529.4 830.1 L530.4 823.7 L534.6 819.2 L538.8 816.7 L540.2 812.7 L537.1 804.2 L546.1 800.1 L548.5 797.9 L544.8 788.7 L552.6 786.4 L549.3 778.5 L546.8 773.4 L555.3 768.4 L551.7 762.4 L551.5 758.5 L559.3 754.5 L559.6 747.8 L556.3 740.5 L556.5 735.2 L559.7 730.4 L561.5 725.9 L565.2 719.4 L557.5 711.6 L566.1 710.8 L567.4 705.0 L567.7 698.7 L570.2 695.5 L573.9 688.9 L569.5 682.1 L572.3 676.6 L577.1 673.9 L580.1 666.4 L581.5 664.2 L585.6 657.1 L591.4 655.1 L586.7 645.9 L589.8 640.9 L592.3 637.7 L590.2 631.4 L591.5 624.7 L594.6 621.3 L596.5 616.8 L595.9 610.6 L601.4 607.5 L602.6 602.2 L604.1 594.9 L607.4 588.6 L601.7 583.0 L608.5 580.8 L606.3 572.3 L608.2 568.7 L608.7 562.8 L607.9 556.1 L612.7 552.9 L618.3 548.0 L615.0 540.5 L618.9 537.1 L614.6 531.2 L616.9 523.4 L620.0 519.6 L620.1 513.7 L621.2 508.4 L626.2 506.1 L627.5 500.0 L630.1 495.2 L629.9 489.7 L630.9 484.0 L632.7 476.9 L638.2 473.9 L637.3 467.1 L642.1 464.3 L644.4 457.0 L648.5 455.4 L644.6 446.0 L651.4 442.7 L647.0 435.2 L655.0 434.3 L656.2 427.9 L659.4 425.3 L656.0 413.4 L665.9 415.7 L664.2 409.0 L667.8 403.3 L668.4 396.2 L673.4 393.2 L681.4 392.0 L685.3 389.3 L686.9 382.2 L688.0 375.7 L694.7 373.3 L691.9 367.3 L699.9 363.7 L702.0 359.7 L708.6 360.1 L708.7 349.1 L714.9 347.2 L718.5 346.7 L723.0 343.1 L725.0 333.6 L730.2 331.5 L730.8 324.8 L739.9 327.4 L740.8 321.2 L745.1 316.7 L748.3 311.9 L756.1 311.7 L756.8 303.4 L757.3 298.8 L764.8 298.0 L766.8 293.7 L770.8 286.7 L772.2 282.2 L778.2 280.1 L784.1 276.5 L786.7 271.7 L788.9 270.0 L795.0 269.5 L800.2 262.7 L805.0 267.1 L811.3 264.7 L815.8 263.0 L822.9 269.8 L828.7 270.1 L832.1 265.7 L837.6 263.1 L843.4 265.5 L846.7 259.0 L846.8 251.5 L852.7 249.7 L859.6 248.9 L862.1 244.5 L871.1 244.3 L872.7 239.2 L879.3 239.0 L883.2 235.7 L888.9 234.3 L895.3 231.4 L900.4 229.3 L904.6 224.4 L912.0 229.4 L913.9 224.1 L921.7 220.9 L927.7 227.5 L930.0 221.1 L938.3 225.8 L941.4 215.3 L948.1 221.2 L951.7 219.5 L958.6 215.8 L963.1 220.3 L969.4 212.8 L974.9 215.0 L979.5 212.4 L986.7 214.9 L991.3 208.6 L996.6 211.4 L1002.1 210.8 L1008.3 204.9 L1013.7 219.6 L1018.8 212.0 L1022.9 212.9 L1028.5 214.1 L1036.2 210.5 L1040.8 208.9 L1042.7 203.1 L1050.8 205.1 L1056.8 204.9 L1062.5 206.2 L1067.6 205.1 L1071.5 205.6 L1079.0 205.8 L1083.9 206.6 L1090.0 206.9 L1093.5 206.5 L1100.9 208.6 L1106.0 201.8 L1110.2 205.0 L1117.2 208.1 L1120.6 205.9 L1125.9 203.5 L1133.9 205.4 L1136.8 205.7 L1143.1 206.4 L1147.9 211.7 L1156.0 210.1 L1159.7 204.9 L1166.6 207.1 L1171.5 212.7 L1177.8 206.7 L1180.8 210.7 L1186.2 208.7 L1193.3 208.3 L1198.1 211.6 L1202.7 213.5 L1209.3 218.5 L1215.8 214.2 L1219.3 221.3 L1225.7 218.6 L1230.8 220.4 L1235.4 219.5 L1241.7 218.6 L1245.5 226.3 L1251.5 226.1 L1255.5 230.0 L1260.1 230.5 L1267.8 227.6 L1273.8 233.3 L1276.0 235.2 L1281.2 236.4 L1286.9 237.8 L1292.6 238.5 L1300.0 237.3 L1304.3 240.2 L1311.4 240.0 L1314.5 241.9 L1319.3 242.9 L1327.8 244.2 L1330.8 250.3 L1338.1 243.1 L1344.4 242.3 L1348.2 249.5 L1353.3 247.4 L1358.1 250.6 L1363.7 250.5 L1368.6 252.9 L1376.7 252.4 L1381.8 253.4 L1384.3 261.0 L1389.2 260.1 L1397.0 255.6 L1402.7 259.2 L1405.0 264.5 L1411.1 263.2 L1417.9 261.7 L1422.0 267.4 L1428.3 270.6 L1433.8 269.2 L1438.1 272.2 L1442.9 271.3 L1447.1 277.9 L1451.5 281.4 L1460.4 278.6 L1463.8 277.6 L1468.2 282.8 L1474.9 283.1 L1479.6 284.3 L1485.0 282.9 L1491.2 285.5 L1495.6 286.0 L1503.0 288.9 L1508.1 292.0 L1512.3 292.2 L1515.5 300.1 L1523.7 296.9 L1526.7 297.0 L1532.3 300.1 L1538.5 304.7 L1544.2 306.8 L1548.7 301.8 L1553.9 303.5 L1561.3 305.6 L1564.5 308.7 L1570.3 310.9 L1575.2 316.8 L1578.8 317.3 L1588.2 313.2 L1594.0 310.0 L1596.4 313.2 L1604.3 317.0 L1607.9 320.1 L1611.8 322.9 L1619.9 319.6 L1622.9 326.3 L1629.2 327.9 L1634.9 319.9 L1640.5 324.1 L1644.5 334.0 L1649.9 329.5 L1655.2 331.8 L1657.4 343.2 L1666.5 335.9 L1672.8 336.7 L1679.4 332.8 L1683.2 340.4 L1688.0 343.7 L1692.7 341.8 L1695.8 349.9 L1703.2 345.4 L1705.4 353.0 L1712.2 352.6 L1718.8 352.2 L1723.3 357.2 L1725.9 360.6 L1731.8 360.1 L1739.3 356.3 L1743.2 363.9 L1748.4 362.2 L1753.8 367.0 L1759.7 368.9 L1766.9 368.1 L1770.7 372.4 L1777.9 369.7 L1779.5 375.6 L1787.8 373.3 L1792.3 378.1 L1795.6 377.8 L1804.0 377.8 L1807.5 384.5 L1813.9 378.2 L1817.9 386.5 L1822.3 384.0 L1828.5 386.9 L1832.4 388.2 L1839.9 388.3 L1844.5 393.0 L1850.3 390.2 L1856.1 387.0 L1860.2 396.3 L1865.2 393.6 L1869.5 402.4 L1875.5 400.7 L1882.4 403.1 L1889.1 401.6 L1889.7 407.9 L1897.1 405.2 L1903.8 406.0 L1908.2 406.6 L1913.7 410.2 L1918.5 417.2 L1923.7 417.3 L1929.5 417.2 L1934.3 417.1 L1939.9 419.9 L1943.3 425.6 L1949.6 424.5 L1955.0 425.7 L1959.7 431.0 L1966.1 427.8 L1971.5 430.2 L1977.8 426.9 L1980.7 430.4 L1986.4 432.2 L1994.0 435.4 L1996.7 437.4 L2002.2 435.8 L2007.6 440.1 L2012.8 442.7 L2018.9 440.2 L2024.5 443.3 L2028.6 445.4 L2034.6 441.5 L2038.7 450.0 L2045.5 447.1 L2049.5 449.9 L2056.3 446.8 L2061.6 454.8 L2065.1 455.8 L2071.0 455.7 L2077.5 455.2 L2082.6 460.2 L2087.9 455.7 L2092.1 462.9 L2098.7 463.6 L2104.5 464.1 L2109.4 465.9 L2116.0 462.5 L2121.5 464.3 L2127.9 465.8 L2132.8 465.4 L2137.5 463.2" stroke="#cc9a00"/>
<path d="M307.0 1330.1 L310.9 1324.1 L312.5 1322.7 L317.6 1318.9 L324.8 1318.7 L329.5 1322.9 L330.6 1320.8 L335.4 1317.3 L339.8 1318.5 L343.6 1324.7 L347.0 1319.9 L352.0 1314.6 L354.8 1312.6 L361.2 1307.1 L364.1 1306.7 L367.2 1301.3 L372.0 1299.9 L375.7 1293.1 L381.0 1292.8 L384.9 1288.2 L387.5 1283.0 L390.4 1279.9 L386.1 1273.1 L389.2 1267.4 L387.7 1262.2 L392.1 1257.9 L396.8 1255.2 L403.5 1250.9 L409.1 1252.0 L413.5 1245.9 L416.0 1244.4 L420.3 1239.7 L423.0 1232.8 L424.7 1230.3 L424.7 1224.1 L429.9 1217.5 L430.1 1212.2 L431.7 1207.0 L432.5 1203.7 L434.3 1196.2 L436.0 1193.2 L439.3 1187.7 L442.9 1182.8 L444.7 1177.3 L444.7 1173.3 L449.3 1166.8 L448.2 1163.1 L453.1 1157.0 L454.3 1151.2 L455.5 1148.5 L457.3 1142.2 L457.5 1136.1 L459.8 1130.4 L461.2 1126.5 L463.6 1119.3 L465.3 1113.6 L464.9 1110.8 L466.0 1102.6 L469.8 1099.8 L467.3 1092.9 L476.7 1090.0 L475.6 1083.2 L473.8 1078.6 L473.5 1071.0 L474.9 1067.0 L474.9 1060.9 L481.3 1055.1 L480.6 1052.2 L478.8 1044.9 L481.3 1038.4 L482.4 1033.4 L482.6 1027.2 L485.6 1023.2 L485.1 1017.3 L489.4 1013.7 L488.8 1008.4 L486.8 1001.2 L491.3 997.0 L495.8 993.0 L493.9 986.4 L494.0 979.6 L493.6 973.1 L496.2 969.7 L500.7 964.9 L501.8 958.2 L498.0 952.9 L504.9 950.3 L501.9 942.9 L507.1 939.7 L508.6 933.8 L511.0 928.1 L512.5 921.4 L511.7 917.6 L514.0 910.6 L518.2 906.5 L517.9 903.1 L523.2 897.0 L521.4 890.6 L525.0 887.5 L525.0 879.1 L524.2 876.1 L531.0 871.4 L525.6 862.3 L528.0 857.9 L533.4 853.1 L535.5 849.4 L535.2 842.4 L535.3 838.2 L537.7 832.9 L543.0 829.6 L538.3 820.0 L539.8 816.2 L546.0 811.2 L547.5 805.1 L551.1 802.0 L554.0 797.7 L554.9 793.6 L559.3 788.4 L561.2 782.7 L563.0 776.0 L565.2 772.8 L567.3 768.2 L568.9 761.5 L576.0 759.3 L577.5 752.3 L576.8 745.7 L585.3 746.1 L585.2 741.5 L587.4 733.1 L591.5 730.1 L592.4 723.0 L596.6 719.8 L598.6 716.6 L605.7 713.2 L612.5 710.8 L611.6 704.8 L613.9 699.3 L616.9 693.2 L621.4 690.1 L623.0 686.4 L622.5 677.9 L624.9 673.4 L627.9 670.7 L633.8 666.5 L635.1 658.8 L631.5 652.0 L641.9 651.1 L646.5 650.6 L647.5 643.9 L650.2 637.1 L655.1 636.3 L660.3 632.5 L664.3 626.8 L666.2 623.2 L668.5 616.5 L677.5 619.3 L677.9 611.7 L686.2 611.6 L687.8 603.8 L690.6 600.6 L702.0 605.1 L700.3 592.5 L707.3 594.8 L710.0 589.9 L718.9 590.4 L719.5 584.6 L724.9 581.5 L733.9 581.7 L732.3 574.6 L738.5 571.6 L744.5 570.5 L746.6 564.8 L753.1 566.9 L757.6 562.4 L764.1 565.7 L770.9 560.9 L772.5 555.1 L781.2 555.6 L785.9 553.2 L792.5 558.1 L797.1 550.6 L804.0 554.0 L804.9 548.6 L811.5 548.0 L818.3 544.9 L824.8 547.6 L826.3 538.6 L831.7 538.9 L835.2 535.4 L846.8 546.0 L849.6 534.8 L854.7 535.5 L859.3 531.3 L865.6 533.3 L869.1 532.2 L873.9 528.2 L879.5 530.2 L887.1 526.2 L891.0 523.6 L898.6 530.0 L903.0 527.9 L906.7 525.4 L914.1 519.8 L919.2 529.1 L925.1 520.8 L927.6 519.0 L933.4 518.4 L940.6 517.7 L945.0 513.4 L949.1 510.7 L954.9 514.7 L962.6 514.9 L968.4 510.9 L974.0 512.5 L978.0 514.9 L983.0 512.1 L990.2 508.8 L993.1 511.7 L998.9 507.1 L1003.9 509.8 L1009.7 510.1 L1015.0 510.2 L1021.6 511.6 L1028.2 507.7 L1034.2 510.7 L1039.0 504.7 L1042.7 509.9 L1050.4 502.5 L1055.3 508.2 L1061.2 511.6 L1067.2 503.5 L1071.3 508.9 L1078.2 512.2 L1082.9 510.1 L1089.0 509.2 L1093.2 513.5 L1098.9 511.3 L1105.8 511.8 L1108.7 510.3 L1114.0 513.6 L1121.7 513.6 L1126.0 511.3 L1131.1 514.1 L1136.1 512.1 L1142.0 514.8 L1149.6 506.1 L1155.2 508.2 L1158.9 511.0 L1163.9 515.7 L1169.4 516.4 L1174.5 513.2 L1180.2 512.9 L1185.8 518.4 L1192.0 514.8 L1197.2 512.1 L1204.6 515.6 L1207.7 519.3 L1214.8 519.2 L1219.5 523.8 L1225.9 519.3 L1231.4 525.2 L1237.8 519.0 L1242.8 523.0 L1248.2 522.6 L1252.4 526.8 L1259.6 519.5 L1263.6 527.7 L1269.3 526.1 L1274.3 528.8 L1279.1 534.6 L1286.8 524.9 L1289.8 533.9 L1295.3 530.5 L1303.2 529.6 L1305.4 533.4 L1312.8 530.8 L1317.1 532.1 L1323.9 538.8 L1328.4 537.4 L1335.5 536.8 L1340.6 539.7 L1344.1 531.6 L1349.1 536.4 L1356.8 534.0 L1362.0 538.6 L1366.5 538.7 L1373.8 534.1 L1377.2 541.2 L1383.1 544.5 L1389.8 536.9 L1395.2 541.5 L1399.5 541.4 L1406.5 539.0 L1411.3 543.7 L1417.8 544.3 L1422.7 543.6 L1424.8 549.3 L1432.3 553.2 L1439.2 546.0 L1442.4 547.3 L1448.0 553.1 L1453.6 550.0 L1457.2 559.9 L1463.6 555.2 L1468.2 561.6 L1476.3 557.5 L1479.9 559.3 L1485.9 561.7 L1489.8 566.5 L1497.1 565.9 L1502.0 560.0 L1506.6 564.8 L1511.6 566.1 L1518.0 568.4 L1522.1 576.0 L1528.3 572.5 L1535.5 569.2 L1538.7 570.4 L1545.9 573.2 L1551.1 571.2 L1556.0 574.2 L1561.4 574.0 L1566.9 579.5 L1572.2 576.2 L1575.9 586.7 L1581.5 580.2 L1589.3 577.3 L1593.6 582.9 L1600.4 583.4 L1605.1 582.1 L1608.7 588.7 L1616.0 586.4 L1621.9 589.8 L1627.0 590.3 L1632.7 591.4 L1636.4 589.3 L1643.5 590.4 L1650.2 586.9 L1653.3 597.2 L1658.8 598.8 L1665.4 596.7 L1668.2 598.7 L1675.3 597.1 L1678.8 600.9 L1684.3 599.3 L1690.7 598.5 L1696.1 600.6 L1701.1 603.1 L1706.5 604.1 L1710.0 612.3 L1720.7 600.7 L1723.4 609.5 L1728.1 609.7 L1736.4 604.8 L1738.6 610.3 L1742.3 618.3 L1749.8 610.1 L1756.6 611.6 L1760.9 611.9 L1766.7 617.5 L1771.1 617.0 L1777.6 621.1 L1783.4 623.6 L1789.1 618.0 L1792.2 621.1 L1801.1 621.4 L1805.4 626.2 L1810.0 620.6 L1814.2 626.6 L1819.8 630.2 L1825.5 630.5 L1830.9 626.4 L1838.6 628.0 L1844.1 631.0 L1847.9 629.9 L1853.3 631.9 L1859.1 631.6 L1865.6 629.1 L1867.6 637.6 L1874.2 641.5 L1879.3 637.3 L1887.1 636.7 L1891.1 643.2 L1896.4 641.9 L1903.0 641.0 L1908.3 642.1 L1914.2 638.9 L1916.4 647.9 L1923.3 650.2 L1927.4 648.2 L1934.2 650.6 L1941.2 648.4 L1944.2 652.4 L1949.4 654.9 L1955.0 653.5 L1961.7 656.9 L1966.1 658.6 L1972.9 655.5 L1977.3 658.4 L1981.1 666.7 L1988.7 665.4 L1994.8 661.2 L1996.9 669.9 L2005.3 666.5 L2010.3 668.2 L2012.6 671.0 L2018.0 676.1 L2026.0 676.7 L2032.1 668.9 L2036.8 676.5 L2042.0 680.4 L2045.3 677.5 L2054.4 673.6 L2057.0 677.6 L2064.7 679.2 L2067.7 678.4 L2073.7 677.3 L2080.4 681.8 L2085.1 681.0 L2089.0 683.8 L2094.6 685.6 L2102.8 681.5 L2106.1 682.7 L2111.9 680.1 L2118.5 685.0 L2123.8 684.9 L2129.5 677.5 L2133.2 673.7 L2128.4 666.1 L2136.8 663.8" stroke="#00cccc"/>
<path d="M307.0 1384.8 L310.9 1380.5 L314.5 1377.1 L318.3 1373.1 L323.2 1369.3 L327.6 1367.5 L331.3 1369.6 L335.7 1373.1 L339.8 1369.3 L341.8 1367.2 L346.0 1360.9 L346.3 1356.7 L350.6 1352.9 L356.8 1354.8 L361.1 1349.5 L368.8 1350.8 L373.8 1351.5 L374.7 1354.0 L378.0 1358.7 L379.6 1363.4 L383.5 1360.1 L382.8 1356.3 L386.3 1349.2 L383.4 1344.5 L385.7 1340.1 L389.4 1334.9 L393.3 1340.5 L395.9 1345.6 L398.4 1345.6 L402.0 1341.0 L401.6 1334.2 L405.6 1331.8 L408.2 1327.7 L409.7 1332.3 L413.0 1336.4 L416.9 1341.4 L421.2 1337.2 L423.2 1330.6 L425.0 1327.4 L427.6 1323.5 L426.8 1317.3 L429.8 1310.6 L434.0 1308.3 L434.3 1301.7 L440.4 1299.5 L444.0 1299.2 L447.4 1302.8 L453.1 1305.0 L456.1 1298.0 L458.0 1293.5 L458.8 1288.9 L461.8 1283.1 L464.6 1278.2 L462.7 1272.8 L462.7 1265.1 L463.6 1262.0 L461.7 1254.0 L464.2 1250.0 L466.0 1244.4 L465.8 1237.5 L467.2 1232.6 L469.3 1228.3 L470.7 1224.7 L473.3 1219.1 L475.4 1213.9 L478.2 1210.0 L478.1 1204.0 L480.9 1196.5 L483.0 1192.1 L483.9 1188.3 L486.1 1181.4 L482.4 1176.6 L484.3 1171.6 L489.0 1167.0 L485.3 1161.2 L493.0 1155.4 L493.5 1148.5 L495.1 1143.5 L491.7 1138.2 L495.3 1132.1 L494.7 1128.2 L492.7 1121.9 L496.2 1115.6 L501.6 1112.4 L500.3 1105.4 L499.7 1101.8 L502.3 1096.6 L508.2 1091.4 L504.4 1086.1 L507.6 1079.5 L510.7 1074.0 L505.7 1066.7 L510.1 1064.4 L512.8 1058.1 L517.5 1052.8 L516.7 1047.1 L518.1 1042.6 L515.8 1038.1 L516.8 1032.2 L525.0 1028.4 L522.8 1021.0 L526.8 1017.7 L521.3 1009.7 L525.0 1006.1 L528.0 999.4 L525.5 993.8 L527.2 989.8 L524.8 980.9 L523.7 977.7 L528.6 971.0 L528.2 965.7 L530.7 959.8 L535.7 958.4 L536.7 952.2 L542.5 946.9 L545.1 942.4 L546.3 936.1 L547.1 930.3 L546.7 926.6 L552.3 920.2 L547.9 914.9 L551.6 909.2 L558.1 907.4 L556.2 901.5 L561.2 897.0 L561.7 890.8 L563.1 884.1 L566.2 879.5 L565.2 874.4 L564.8 868.0 L567.1 864.2 L572.3 858.0 L568.7 851.8 L577.7 849.1 L575.5 843.2 L579.9 837.1 L582.5 835.2 L586.6 830.2 L585.5 821.3 L591.7 818.5 L590.9 814.3 L599.0 810.2 L602.1 807.3 L605.2 802.7 L608.3 796.5 L610.3 791.3 L613.1 787.9 L610.8 779.8 L618.0 778.8 L620.3 774.6 L624.2 769.0 L626.3 765.7 L627.3 756.8 L629.9 752.7 L630.9 749.8 L635.8 742.5 L635.8 736.9 L641.7 735.3 L643.9 728.4 L639.8 722.3 L643.6 717.2 L645.7 711.7 L650.4 708.4 L652.7 703.2 L658.5 699.3 L660.2 697.3 L665.6 690.6 L667.4 687.4 L672.7 684.4 L681.7 685.6 L682.9 679.7 L689.8 676.8 L690.4 673.2 L700.1 671.1 L698.9 663.8 L700.8 660.4 L706.7 655.1 L711.1 655.2 L714.9 648.8 L720.1 644.0 L729.3 651.8 L735.1 652.4 L738.7 651.5 L743.7 643.7 L748.6 645.9 L753.6 643.9 L760.4 642.1 L762.8 637.7 L767.5 635.1 L773.3 634.9 L779.7 629.1 L783.0 625.4 L789.2 627.6 L795.5 630.0 L798.5 621.3 L805.8 622.0 L808.5 617.1 L816.0 626.4 L821.6 625.2 L827.7 619.8 L830.8 621.8 L838.8 616.7 L842.9 623.5 L848.5 620.4 L854.6 623.0 L860.2 620.4 L866.8 620.0 L870.8 615.6 L875.6 615.4 L882.1 619.7 L886.9 610.4 L892.2 608.9 L898.1 617.0 L901.6 612.0 L909.7 613.7 L913.8 612.1 L920.6 611.2 L924.5 604.4 L929.8 604.5 L934.2 603.7 L940.6 601.0 L946.0 602.4 L951.6 602.2 L956.3 597.4 L961.5 606.9 L967.6 599.6 L971.1 606.8 L976.8 604.0 L985.3 606.3 L988.4 608.6 L993.2 602.4 L999.3 604.5 L1005.6 604.6 L1011.6 599.1 L1015.2 598.1 L1022.0 601.7 L1028.7 601.1 L1032.6 597.8 L1037.3 591.3 L1043.7 597.8 L1050.2 600.1 L1055.7 595.6 L1061.2 595.1 L1064.2 595.1 L1072.2 596.7 L1076.3 592.4 L1081.4 597.0 L1088.0 598.6 L1091.9 598.8 L1099.0 601.2 L1102.7 606.0 L1108.1 603.8 L1114.4 603.7 L1120.1 600.4 L1125.7 604.7 L1132.4 603.9 L1137.1 602.7 L1141.1 605.2 L1148.7 604.1 L1154.1 605.9 L1158.1 599.6 L1162.7 603.1 L1169.3 607.4 L1175.4 610.5 L1179.5 606.7 L1185.8 606.2 L1189.8 606.6 L1196.9 608.7 L1201.6 613.7 L1206.3 609.4 L1214.0 607.1 L1219.7 608.3 L1225.7 611.1 L1228.8 615.8 L1234.1 611.8 L1240.1 610.7 L1244.1 616.8 L1252.1 615.7 L1258.5 615.8 L1259.9 623.9 L1265.9 623.0 L1271.9 629.5 L1277.0 628.1 L1282.5 626.2 L1288.2 623.8 L1292.8 626.6 L1299.2 623.7 L1305.1 628.9 L1311.2 630.2 L1316.4 627.5 L1320.3 628.2 L1325.9 626.7 L1332.0 630.7 L1336.5 631.2 L1344.1 638.5 L1350.3 631.6 L1352.5 639.7 L1360.5 631.9 L1363.8 632.8 L1370.7 633.1 L1374.8 635.7 L1381.7 631.4 L1385.4 639.8 L1391.4 640.2 L1397.7 636.9 L1402.9 639.0 L1408.3 644.6 L1415.7 642.2 L1418.3 645.1 L1425.3 644.4 L1428.8 646.0 L1437.2 644.8 L1442.0 647.8 L1446.3 651.1 L1452.6 650.9 L1457.2 646.4 L1461.8 654.8 L1469.4 650.7 L1475.4 648.6 L1477.9 653.8 L1485.8 655.4 L1488.0 660.2 L1494.6 658.3 L1500.3 656.4 L1506.1 656.2 L1511.3 658.5 L1515.8 659.1 L1521.6 660.0 L1529.4 661.2 L1533.4 661.3 L1538.1 663.9 L1544.2 660.6 L1550.8 662.0 L1556.5 665.4 L1561.2 668.8 L1567.4 665.7 L1572.6 667.4 L1577.5 668.4 L1580.4 672.3 L1588.4 674.8 L1591.5 675.0 L1600.5 669.5 L1602.6 674.1 L1609.2 678.9 L1615.2 679.0 L1619.4 677.4 L1624.7 685.0 L1632.6 678.4 L1636.4 686.2 L1643.0 683.1 L1647.2 689.8 L1650.6 686.8 L1656.4 690.2 L1664.3 686.2 L1668.3 687.6 L1672.9 691.1 L1676.9 696.1 L1683.7 692.1 L1689.2 694.8 L1694.7 694.9 L1702.4 694.7 L1705.7 698.1 L1710.7 702.3 L1715.7 697.0 L1721.5 702.1 L1726.7 699.7 L1734.1 700.8 L1736.9 704.8 L1743.8 707.8 L1746.5 710.2 L1755.9 708.8 L1756.8 713.6 L1764.4 717.6 L1770.7 715.1 L1775.1 717.0 L1782.7 713.9 L1785.5 718.7 L1789.9 720.7 L1797.2 721.8 L1803.2 719.7 L1805.4 724.3 L1813.0 724.1 L1818.7 721.5 L1823.3 722.2 L1828.1 724.1 L1835.8 725.0 L1840.1 729.3 L1845.4 728.6 L1849.8 731.1 L1856.8 726.7 L1862.4 734.2 L1868.8 727.8 L1870.8 733.1 L1878.6 734.2 L1883.9 737.4 L1887.7 734.7 L1895.5 736.1 L1898.9 740.2 L1906.4 739.2 L1909.4 742.6 L1914.8 739.8 L1921.4 743.5 L1926.5 741.5 L1932.0 742.5 L1934.8 753.5 L1942.8 747.4 L1948.0 746.4 L1952.6 749.1 L1957.9 746.9 L1963.6 750.5 L1968.8 751.9 L1974.5 747.8 L1982.2 751.6 L1986.6 752.4 L1993.1 751.6 L1998.0 752.7 L2004.3 753.0 L2007.9 760.3 L2015.5 754.9 L2017.5 763.8 L2023.4 766.1 L2028.6 763.3 L2035.6 767.1 L2041.7 762.5 L2046.1 760.5 L2052.1 765.9 L2055.7 768.5 L2064.0 761.7 L2066.6 766.9 L2071.9 765.7 L2078.5 775.3 L2083.0 767.1 L2088.9 772.6 L2092.9 773.4 L2099.8 779.0 L2103.7 775.5 L2112.0 774.7 L2115.8 782.0 L2122.8 778.5 L2128.1 778.0 L2134.5 774.8 L2137.1 783.6" stroke="#764244"/>
<path d="M307.0 1361.8 L308.3 1353.8 L314.8 1354.2 L318.8 1354.3 L324.8 1358.1 L329.7 1355.5 L333.2 1352.7 L338.8 1349.0 L344.0 1344.5 L344.5 1338.7 L350.8 1336.7 L355.7 1334.6 L361.4 1333.3 L366.3 1331.7 L369.6 1328.2 L376.0 1322.6 L377.4 1319.6 L384.2 1319.3 L387.8 1312.7 L394.4 1316.7 L398.0 1321.9 L398.9 1318.1 L399.3 1310.8 L402.0 1307.4 L404.5 1299.5 L406.2 1295.7 L411.9 1291.6 L415.5 1287.6 L424.2 1289.5 L424.8 1282.2 L430.8 1282.2 L432.1 1273.8 L438.2 1272.9 L438.8 1267.0 L438.9 1261.9 L439.9 1256.1 L443.0 1250.9 L443.2 1243.0 L449.5 1239.6 L447.8 1235.1 L454.7 1232.7 L456.3 1226.9 L458.0 1220.3 L458.6 1216.7 L460.8 1209.9 L458.7 1203.7 L463.3 1199.0 L465.4 1195.4 L467.4 1187.5 L470.6 1182.7 L470.9 1179.8 L471.7 1171.6 L473.4 1168.0 L476.9 1164.3 L474.8 1155.7 L475.6 1150.7 L474.9 1146.2 L474.3 1141.1 L477.1 1135.1 L480.5 1131.1 L478.2 1123.0 L481.7 1118.3 L481.5 1112.9 L485.0 1108.9 L488.8 1104.1 L490.2 1098.7 L491.6 1093.6 L488.0 1087.7 L490.2 1081.4 L492.7 1077.7 L491.3 1070.2 L500.2 1066.9 L493.1 1058.2 L499.1 1053.5 L494.7 1047.9 L497.1 1043.2 L499.8 1039.6 L502.4 1033.2 L501.4 1028.2 L509.2 1024.5 L507.4 1016.9 L510.9 1013.0 L502.2 1003.6 L510.1 1002.4 L515.2 996.2 L514.7 990.2 L509.8 983.5 L511.3 977.0 L512.7 971.5 L518.4 969.7 L514.7 963.4 L518.3 957.1 L523.7 953.4 L521.4 946.8 L524.2 941.3 L524.0 937.1 L532.6 933.7 L529.1 926.1 L534.0 921.9 L534.3 915.1 L537.8 910.9 L539.3 907.3 L539.2 900.6 L541.6 894.9 L539.4 887.8 L544.3 884.0 L545.2 878.9 L547.6 873.2 L541.5 868.3 L549.5 863.5 L548.8 859.2 L548.6 851.4 L551.2 846.9 L555.8 843.6 L559.2 837.7 L563.1 834.0 L559.5 826.1 L562.0 820.5 L565.2 817.2 L572.4 813.9 L574.0 807.8 L573.9 800.5 L578.8 800.0 L580.7 794.6 L584.4 789.1 L586.1 785.1 L587.2 777.8 L591.0 772.6 L598.4 772.0 L596.4 764.3 L601.5 759.7 L600.3 752.4 L602.4 747.5 L603.8 743.5 L611.2 742.0 L613.3 736.8 L616.5 732.2 L620.3 727.4 L620.7 719.8 L620.8 716.7 L625.1 709.1 L628.4 707.7 L632.5 703.9 L636.1 698.7 L639.7 694.3 L638.3 687.8 L643.1 683.1 L639.7 675.7 L647.2 672.5 L653.6 669.4 L652.3 661.4 L658.7 659.6 L662.7 660.1 L668.7 656.9 L668.9 650.5 L674.7 645.1 L678.8 644.3 L682.5 641.0 L686.9 636.6 L691.1 633.4 L697.9 630.6 L700.7 629.4 L705.5 625.2 L709.6 622.2 L717.1 620.7 L719.5 620.4 L726.2 617.8 L731.9 614.1 L737.0 611.0 L741.8 612.5 L744.7 603.4 L751.2 606.4 L756.0 603.8 L761.3 604.8 L765.3 597.0 L770.1 594.6 L777.8 598.4 L781.6 597.5 L788.8 591.9 L792.8 595.1 L797.3 593.5 L801.7 590.5 L809.0 586.8 L814.0 585.7 L818.9 585.2 L822.6 584.1 L829.8 585.0 L835.2 582.1 L841.5 579.3 L846.9 577.1 L850.0 579.1 L856.4 581.0 L862.2 580.4 L866.3 576.1 L873.8 584.7 L879.3 582.0 L883.3 577.8 L888.0 574.3 L895.5 571.8 L900.8 576.0 L904.3 571.8 L910.3 573.8 L916.7 571.5 L919.9 567.3 L928.7 569.3 L932.8 569.1 L937.1 567.6 L942.0 568.2 L950.6 565.0 L955.7 567.7 L960.1 567.6 L964.1 568.7 L969.6 565.6 L976.2 571.6 L982.0 569.9 L986.7 565.1 L993.9 567.4 L997.3 565.7 L1005.3 565.8 L1010.2 569.3 L1015.4 565.2 L1020.5 561.6 L1024.5 569.4 L1031.0 564.1 L1036.1 565.8 L1043.8 561.2 L1047.4 567.3 L1054.4 561.7 L1059.2 560.1 L1065.2 558.9 L1071.1 563.3 L1074.2 569.8 L1079.8 563.6 L1084.4 568.2 L1092.0 568.6 L1094.9 573.8 L1100.9 572.7 L1107.9 568.0 L1112.7 567.5 L1119.4 567.6 L1126.1 568.2 L1130.9 572.1 L1135.3 571.2 L1141.0 566.7 L1147.6 568.8 L1151.1 570.1 L1156.9 565.5 L1162.7 571.8 L1169.1 574.8 L1173.9 569.0 L1180.0 575.0 L1186.5 572.8 L1190.3 572.6 L1196.6 574.4 L1200.2 574.2 L1206.0 580.0 L1212.6 574.8 L1217.0 578.7 L1222.8 578.3 L1228.0 578.6 L1233.8 576.2 L1237.6 583.6 L1244.3 584.4 L1249.6 589.3 L1255.0 588.4 L1261.1 590.3 L1266.7 590.8 L1270.5 583.2 L1277.5 594.4 L1282.1 594.3 L1285.9 592.8 L1292.3 593.7 L1299.3 597.7 L1302.7 590.0 L1311.0 595.1 L1315.8 592.5 L1320.0 593.8 L1324.7 593.2 L1333.4 587.0 L1336.3 593.9 L1342.2 596.6 L1346.8 595.7 L1354.5 598.2 L1360.6 595.1 L1365.2 596.8 L1369.7 597.1 L1376.6 597.2 L1378.7 605.3 L1385.4 602.4 L1391.4 602.1 L1395.0 606.0 L1402.2 600.7 L1409.6 599.4 L1414.1 607.4 L1420.5 603.0 L1424.7 607.7 L1429.3 607.1 L1436.6 606.3 L1441.4 608.5 L1447.1 610.7 L1451.9 612.2 L1455.8 612.0 L1463.9 612.8 L1468.0 611.1 L1473.0 612.3 L1480.4 614.8 L1483.8 615.9 L1488.3 620.7 L1494.4 620.3 L1500.0 618.9 L1505.2 627.3 L1510.5 618.9 L1513.3 631.7 L1521.4 626.0 L1528.5 626.8 L1532.9 628.1 L1538.3 625.3 L1542.8 635.2 L1549.4 632.9 L1554.7 636.2 L1558.2 640.1 L1562.8 638.4 L1569.0 640.8 L1575.4 640.4 L1580.0 635.9 L1583.8 646.6 L1590.2 641.2 L1596.7 636.3 L1601.6 643.9 L1608.3 641.9 L1613.5 649.9 L1619.8 645.5 L1623.6 653.6 L1630.1 648.7 L1635.1 653.7 L1639.3 652.9 L1645.1 653.5 L1650.3 653.5 L1654.5 657.6 L1660.9 656.4 L1667.8 657.1 L1670.7 664.6 L1676.4 664.7 L1682.0 666.8 L1688.9 663.6 L1694.7 663.4 L1700.6 661.7 L1705.6 663.5 L1709.6 665.3 L1716.5 665.3 L1721.1 670.1 L1727.3 670.8 L1730.2 671.1 L1735.3 672.6 L1743.3 669.8 L1746.6 674.2 L1753.8 675.6 L1757.8 676.6 L1765.0 674.6 L1769.2 676.9 L1774.7 679.6 L1781.3 681.6 L1786.8 678.8 L1790.7 686.6 L1795.5 687.4 L1802.6 686.5 L1805.1 689.2 L1813.8 684.6 L1819.0 687.0 L1822.6 689.2 L1828.7 688.6 L1834.8 690.3 L1838.7 687.6 L1846.3 693.3 L1848.8 693.7 L1856.7 692.4 L1861.6 687.6 L1865.5 696.3 L1870.9 696.5 L1876.1 701.8 L1882.3 701.9 L1888.5 701.2 L1894.1 705.3 L1899.3 701.4 L1903.3 706.3 L1907.6 707.7 L1914.2 704.6 L1918.5 710.7 L1926.8 711.3 L1931.7 715.4 L1934.9 715.5 L1942.8 711.7 L1948.5 711.8 L1952.4 708.8 L1957.6 719.1 L1963.8 721.1 L1969.8 720.3 L1975.2 718.7 L1979.8 720.4 L1985.3 719.2 L1990.3 718.6 L1994.7 722.8 L2000.4 726.7 L2007.8 728.3 L2013.2 726.5 L2018.0 728.4 L2022.4 727.4 L2027.2 731.6 L2034.0 733.5 L2037.9 735.5 L2044.0 734.4 L2050.5 732.9 L2055.9 734.6 L2058.9 740.3 L2067.5 737.8 L2070.8 738.3 L2075.4 740.1 L2081.1 739.6 L2089.4 736.0 L2092.5 743.6 L2098.8 737.2 L2106.2 736.7 L2109.8 741.6 L2114.8 748.0 L2122.7 736.5 L2127.2 745.8 L2131.2 748.9 L2137.5 745.6" stroke="#888800"/>
</g>
<g stroke="#000" stroke-width="5.6" stroke-linecap="butt">
<line x1="277.5" y1="1533.0" x2="307.0" y2="1533.0"/>
<line x1="277.5" y1="1359.6" x2="307.0" y2="1359.6"/>
<line x1="277.5" y1="1186.2" x2="307.0" y2="1186.2"/>
<line x1="277.5" y1="1012.9" x2="307.0" y2="1012.9"/>
<line x1="277.5" y1="839.5" x2="307.0" y2="839.5"/>
<line x1="277.5" y1="666.1" x2="307.0" y2="666.1"/>
<line x1="277.5" y1="492.8" x2="307.0" y2="492.8"/>
<line x1="277.5" y1="319.4" x2="307.0" y2="319.4"/>
<line x1="277.5" y1="146.0" x2="307.0" y2="146.0"/>
<line x1="292.5" y1="1446.3" x2="307.0" y2="1446.3"/>
<line x1="292.5" y1="1272.9" x2="307.0" y2="1272.9"/>
<line x1="292.5" y1="1099.6" x2="307.0" y2="1099.6"/>
<line x1="292.5" y1="926.2" x2="307.0" y2="926.2"/>
<line x1="292.5" y1="752.8" x2="307.0" y2="752.8"/>
<line x1="292.5" y1="579.4" x2="307.0" y2="579.4"/>
<line x1="292.5" y1="406.1" x2="307.0" y2="406.1"/>
<line x1="292.5" y1="232.7" x2="307.0" y2="232.7"/>
<line x1="307.0" y1="1533.0" x2="307.0" y2="1561.5"/>
<line x1="673.1" y1="1533.0" x2="673.1" y2="1561.5"/>
<line x1="1039.2" y1="1533.0" x2="1039.2" y2="1561.5"/>
<line x1="1405.4" y1="1533.0" x2="1405.4" y2="1561.5"/>
<line x1="1771.5" y1="1533.0" x2="1771.5" y2="1561.5"/>
<line x1="2137.6" y1="1533.0" x2="2137.6" y2="1561.5"/>
<line x1="490.1" y1="1533.0" x2="490.1" y2="1547.5"/>
<line x1="856.2" y1="1533.0" x2="856.2" y2="1547.5"/>
<line x1="1222.3" y1="1533.0" x2="1222.3" y2="1547.5"/>
<line x1="1588.4" y1="1533.0" x2="1588.4" y2="1547.5"/>
<line x1="1954.5" y1="1533.0" x2="1954.5" y2="1547.5"/>
</g>
<rect x="307.0" y="59.5" width="1830.6" height="1473.5" fill="none" stroke="#000" stroke-width="5.6"/>
<line x1="292" y1="59.6" x2="2140.4" y2="59.6" stroke="#000" stroke-width="6.4"/>
<rect x="698.5" y="732.2" width="414.7" height="739.6" fill="#fdfdfd" stroke="#3a3a3a" stroke-width="2.2"/>
<line x1="706.5" y1="770.8" x2="835.5" y2="770.8" stroke="#4a4a4a" stroke-width="7.6" stroke-linecap="round"/>
<text class="lg" x="846.9" y="790.0" textLength="131.8" lengthAdjust="spacingAndGlyphs">1# (A)</text>
<text class="lg" x="990.5" y="790.0">P</text>
<text class="sb" x="1019.5" y="802.7">sa</text>
<text class="lg" x="1051.0" y="790.0">T</text>
<line x1="706.5" y1="852.7" x2="835.5" y2="852.7" stroke="#f43b3f" stroke-width="7.6" stroke-linecap="round"/>
<text class="lg" x="847.4" y="871.9" textLength="131.4" lengthAdjust="spacingAndGlyphs">2# (A)</text>
<text class="lg" x="990.8" y="871.9">PT</text>
<text class="sb" x="1049.5" y="884.6">1sa</text>
<line x1="706.5" y1="934.5" x2="835.5" y2="934.5" stroke="#1267dc" stroke-width="7.6" stroke-linecap="round"/>
<text class="lg" x="847.2" y="953.7" textLength="131.6" lengthAdjust="spacingAndGlyphs">3# (A)</text>
<text class="lg" x="990.8" y="953.7">PT</text>
<text class="sb" x="1049.5" y="966.4">2sa</text>
<line x1="706.5" y1="1016.4" x2="835.5" y2="1016.4" stroke="#2ba863" stroke-width="7.6" stroke-linecap="round"/>
<text class="lg" x="848.0" y="1035.6" textLength="122.2" lengthAdjust="spacingAndGlyphs">4# (B)</text>
<text class="lg" x="982.2" y="1035.6">P</text>
<text class="sb" x="1011.8" y="1048.3">a</text>
<text class="lg" x="1027.8" y="1035.6">T</text>
<text class="sb" x="1057.5" y="1048.3">1s</text>
<line x1="706.5" y1="1098.2" x2="835.5" y2="1098.2" stroke="#b070de" stroke-width="7.6" stroke-linecap="round"/>
<text class="lg" x="846.0" y="1117.4" textLength="124.2" lengthAdjust="spacingAndGlyphs">5# (B)</text>
<text class="lg" x="982.2" y="1117.4">P</text>
<text class="sb" x="1011.8" y="1130.1">a</text>
<text class="lg" x="1027.8" y="1117.4">T</text>
<text class="sb" x="1058.0" y="1130.1">2s</text>
<line x1="706.5" y1="1180.1" x2="835.5" y2="1180.1" stroke="#cc9a00" stroke-width="7.6" stroke-linecap="round"/>
<text class="lg" x="848.4" y="1199.3" textLength="121.6" lengthAdjust="spacingAndGlyphs">6# (B)</text>
<text class="lg" x="982.7" y="1199.3">P</text>
<text class="sb" x="1011.2" y="1212.0">s</text>
<text class="lg" x="1025.5" y="1199.3">T</text>
<text class="sb" x="1055.8" y="1212.0">1a</text>
<line x1="706.5" y1="1262.0" x2="835.5" y2="1262.0" stroke="#00cccc" stroke-width="7.6" stroke-linecap="round"/>
<text class="lg" x="847.2" y="1281.2" textLength="122.8" lengthAdjust="spacingAndGlyphs">7# (B)</text>
<text class="lg" x="982.7" y="1281.2">P</text>
<text class="sb" x="1011.2" y="1293.9">s</text>
<text class="lg" x="1025.5" y="1281.2">T</text>
<text class="sb" x="1055.4" y="1293.9">2a</text>
<line x1="706.5" y1="1343.8" x2="835.5" y2="1343.8" stroke="#764244" stroke-width="7.6" stroke-linecap="round"/>
<text class="lg" x="848.1" y="1363.0" textLength="121.9" lengthAdjust="spacingAndGlyphs">8# (B)</text>
<text class="lg" x="982.7" y="1363.0">PT</text>
<text class="sb" x="1040.6" y="1375.7">1a2s</text>
<line x1="706.5" y1="1425.7" x2="835.5" y2="1425.7" stroke="#888800" stroke-width="7.6" stroke-linecap="round"/>
<text class="lg" x="848.4" y="1444.9" textLength="121.6" lengthAdjust="spacingAndGlyphs">9# (B)</text>
<text class="lg" x="982.7" y="1444.9">PT</text>
<text class="sb" x="1040.9" y="1457.6">2a1s</text>
<text class="tk" transform="translate(258.2,1546.8) scale(0.957,1)" text-anchor="end">0.0</text>
<text class="tk" transform="translate(258.2,1373.4) scale(0.957,1)" text-anchor="end">12.5</text>
<text class="tk" transform="translate(258.2,1200.0) scale(0.957,1)" text-anchor="end">25.0</text>
<text class="tk" transform="translate(258.2,1026.7) scale(0.957,1)" text-anchor="end">37.5</text>
<text class="tk" transform="translate(258.2,853.3) scale(0.957,1)" text-anchor="end">50.0</text>
<text class="tk" transform="translate(258.2,679.9) scale(0.957,1)" text-anchor="end">62.5</text>
<text class="tk" transform="translate(258.2,506.6) scale(0.957,1)" text-anchor="end">75.0</text>
<text class="tk" transform="translate(258.2,333.2) scale(0.957,1)" text-anchor="end">87.5</text>
<text class="tk" transform="translate(258.2,159.8) scale(0.957,1)" text-anchor="end">100.0</text>
<text class="tk" transform="translate(307.0,1627.2) scale(0.964,1)" text-anchor="middle">300</text>
<text class="tk" transform="translate(673.1,1627.2) scale(0.964,1)" text-anchor="middle">400</text>
<text class="tk" transform="translate(1039.2,1627.2) scale(0.964,1)" text-anchor="middle">500</text>
<text class="tk" transform="translate(1405.4,1627.2) scale(0.964,1)" text-anchor="middle">600</text>
<text class="tk" transform="translate(1771.5,1627.2) scale(0.964,1)" text-anchor="middle">700</text>
<text class="tk" transform="translate(2137.6,1627.2) scale(0.964,1)" text-anchor="middle">800</text>
<text class="ti" x="918" y="1745" textLength="593" lengthAdjust="spacingAndGlyphs">Wavelength (nm)</text>
<text class="ti" transform="translate(106.5,1149) rotate(-90)" x="0" y="0" textLength="621" lengthAdjust="spacingAndGlyphs">Transmittance (%)</text>
</svg>
</body></html>
